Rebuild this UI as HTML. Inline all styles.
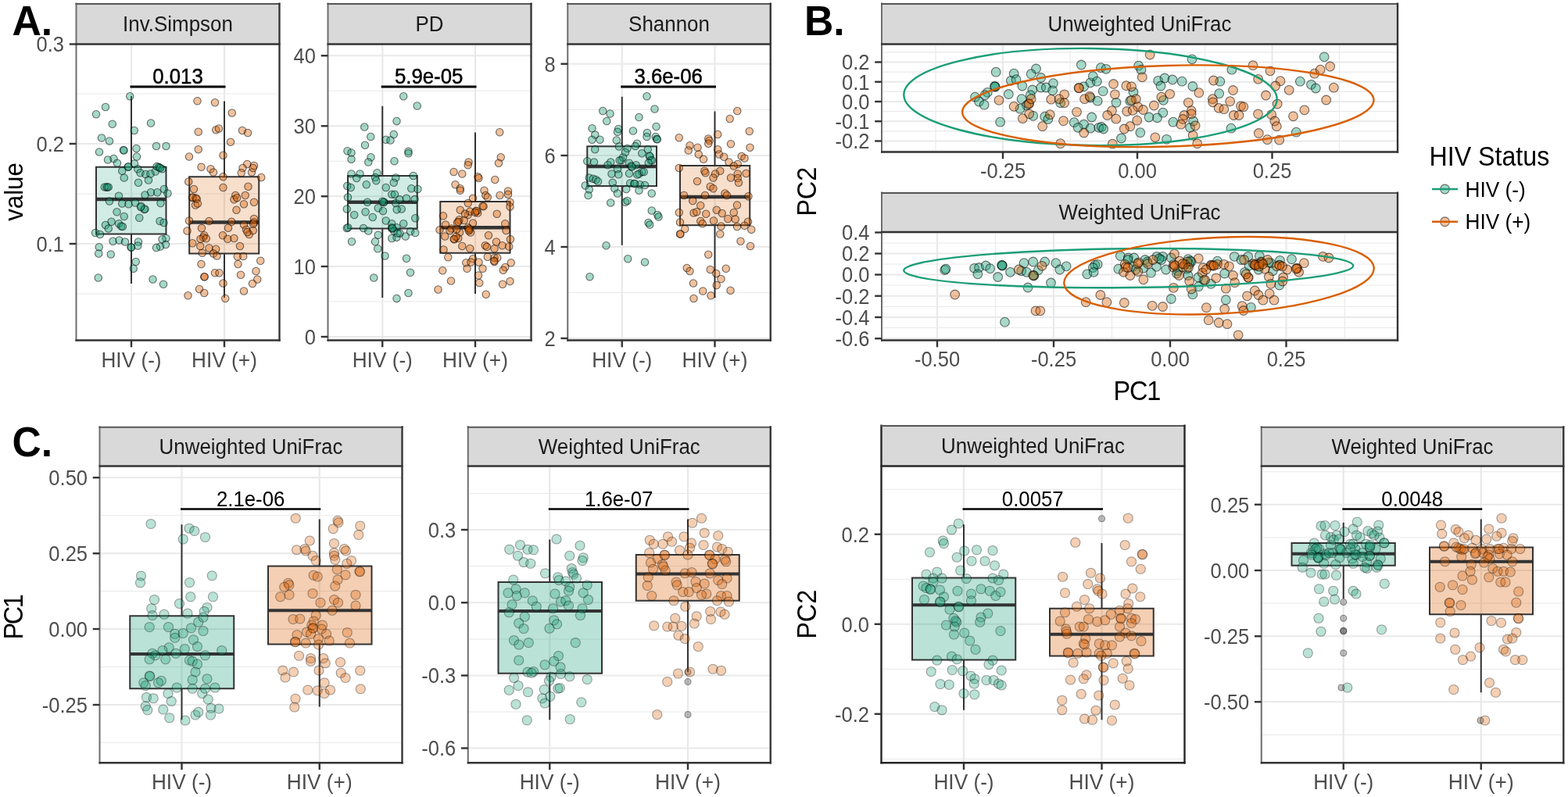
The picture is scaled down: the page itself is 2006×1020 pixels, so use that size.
<!DOCTYPE html>
<html lang="en">
<head>
<meta charset="utf-8">
<title>Alpha and beta diversity by HIV status</title>
<style>
html,body{margin:0;padding:0;background:#fff;}
body{width:2006px;height:1020px;overflow:hidden;}
svg{display:block;font-family:"Liberation Sans", sans-serif;}
</style>
</head>
<body>
<svg width="2006" height="1020" viewBox="0 0 2006 1020">
<rect x="0" y="0" width="2006" height="1020" fill="#fff"/>
<rect x="97.5" y="56.5" width="260" height="379" fill="#fff"/>
<line x1="97.5" y1="120" x2="357.5" y2="120" stroke="#E9E9E9" stroke-width="1.1"/>
<line x1="97.5" y1="248" x2="357.5" y2="248" stroke="#E9E9E9" stroke-width="1.1"/>
<line x1="97.5" y1="376" x2="357.5" y2="376" stroke="#E9E9E9" stroke-width="1.1"/>
<line x1="97.5" y1="184" x2="357.5" y2="184" stroke="#E9E9E9" stroke-width="2.2"/>
<line x1="97.5" y1="312" x2="357.5" y2="312" stroke="#E9E9E9" stroke-width="2.2"/>
<line x1="168" y1="56.5" x2="168" y2="435.5" stroke="#E9E9E9" stroke-width="2.2"/>
<line x1="287" y1="56.5" x2="287" y2="435.5" stroke="#E9E9E9" stroke-width="2.2"/>
<line x1="168" y1="123" x2="168" y2="213.75" stroke="#333" stroke-width="2.0"/>
<line x1="168" y1="299.5" x2="168" y2="363" stroke="#333" stroke-width="2.0"/>
<rect x="123" y="213.75" width="89.5" height="85.75" fill="#1B9E77" stroke="#333" stroke-width="2.0" fill-opacity="0.2"/>
<line x1="123" y1="255" x2="212.5" y2="255" stroke="#333" stroke-width="4.3"/>
<line x1="287" y1="129.5" x2="287" y2="226.25" stroke="#333" stroke-width="2.0"/>
<line x1="287" y1="324.5" x2="287" y2="381" stroke="#333" stroke-width="2.0"/>
<rect x="242.2" y="226.25" width="89.05" height="98.25" fill="#D95F02" stroke="#333" stroke-width="2.0" fill-opacity="0.2"/>
<line x1="242.2" y1="284.5" x2="331.25" y2="284.5" stroke="#333" stroke-width="4.3"/>
<g fill="#1B9E77" fill-opacity="0.39" stroke="#000" stroke-opacity="0.55" stroke-width="1.1">
<circle cx="166.25" cy="123.25" r="4.7"/><circle cx="135" cy="137" r="4.7"/><circle cx="123" cy="146.25" r="4.7"/><circle cx="143.75" cy="158.75" r="4.7"/><circle cx="193" cy="157.5" r="4.7"/><circle cx="171.75" cy="167" r="4.7"/><circle cx="130" cy="176.5" r="4.7"/><circle cx="140" cy="180.5" r="4.7"/><circle cx="200" cy="187" r="4.7"/><circle cx="212.5" cy="187" r="4.7"/><circle cx="174.5" cy="190" r="4.7"/><circle cx="158" cy="192" r="4.7"/><circle cx="158.5" cy="192.5" r="4.7"/><circle cx="127" cy="194.5" r="4.7"/><circle cx="175" cy="200.5" r="4.7"/><circle cx="138" cy="204.5" r="4.7"/><circle cx="145.5" cy="203" r="4.7"/><circle cx="150" cy="208.75" r="4.7"/><circle cx="172" cy="209.5" r="4.7"/><circle cx="163.75" cy="213.75" r="4.7"/><circle cx="164.25" cy="213.25" r="4.7"/><circle cx="203" cy="213.75" r="4.7"/><circle cx="203.5" cy="214.25" r="4.7"/><circle cx="207.5" cy="216.25" r="4.7"/><circle cx="198.75" cy="219.5" r="4.7"/><circle cx="176.25" cy="216.25" r="4.7"/><circle cx="156.25" cy="218.75" r="4.7"/><circle cx="179.5" cy="221.25" r="4.7"/><circle cx="186.25" cy="223" r="4.7"/><circle cx="192.5" cy="222.5" r="4.7"/><circle cx="158.75" cy="227.5" r="4.7"/><circle cx="190" cy="230.5" r="4.7"/><circle cx="177" cy="233.75" r="4.7"/><circle cx="136.25" cy="239.5" r="4.7"/><circle cx="137.25" cy="239.5" r="4.7"/><circle cx="210" cy="242" r="4.7"/><circle cx="193" cy="246.25" r="4.7"/><circle cx="201.25" cy="246.25" r="4.7"/><circle cx="214.5" cy="247.5" r="4.7"/><circle cx="185.5" cy="249.5" r="4.7"/><circle cx="152" cy="250.75" r="4.7"/><circle cx="140" cy="257.5" r="4.7"/><circle cx="156.25" cy="260.5" r="4.7"/><circle cx="164.5" cy="261.25" r="4.7"/><circle cx="173" cy="259.5" r="4.7"/><circle cx="205.5" cy="260" r="4.7"/><circle cx="180.5" cy="263.75" r="4.7"/><circle cx="184.5" cy="268" r="4.7"/><circle cx="185.5" cy="267.5" r="4.7"/><circle cx="149.5" cy="271.25" r="4.7"/><circle cx="158.75" cy="277" r="4.7"/><circle cx="178.25" cy="278.75" r="4.7"/><circle cx="142.5" cy="283.75" r="4.7"/><circle cx="204.5" cy="283" r="4.7"/><circle cx="209.5" cy="285" r="4.7"/><circle cx="135" cy="288" r="4.7"/><circle cx="152" cy="286.25" r="4.7"/><circle cx="155" cy="289.5" r="4.7"/><circle cx="138.75" cy="292.5" r="4.7"/><circle cx="122" cy="298" r="4.7"/><circle cx="128" cy="300" r="4.7"/><circle cx="212.5" cy="305" r="4.7"/><circle cx="207.5" cy="306.25" r="4.7"/><circle cx="144.5" cy="308.75" r="4.7"/><circle cx="152.5" cy="307.5" r="4.7"/><circle cx="160" cy="309.5" r="4.7"/><circle cx="177" cy="309.5" r="4.7"/><circle cx="176.25" cy="314.5" r="4.7"/><circle cx="167.5" cy="316.25" r="4.7"/><circle cx="168" cy="316.75" r="4.7"/><circle cx="212" cy="313" r="4.7"/><circle cx="205" cy="315.5" r="4.7"/><circle cx="200" cy="317" r="4.7"/><circle cx="126.75" cy="316.25" r="4.7"/><circle cx="126.25" cy="324.5" r="4.7"/><circle cx="141.75" cy="325.5" r="4.7"/><circle cx="173.75" cy="335" r="4.7"/><circle cx="170.75" cy="343.75" r="4.7"/><circle cx="125.75" cy="355.5" r="4.7"/><circle cx="195.5" cy="357.5" r="4.7"/><circle cx="209" cy="363.75" r="4.7"/><circle cx="133.75" cy="239.38" r="4.7"/><circle cx="138.75" cy="239.38" r="4.7"/><circle cx="156.88" cy="290" r="4.7"/><circle cx="200.62" cy="213.12" r="4.7"/><circle cx="205" cy="215" r="4.7"/><circle cx="180" cy="265" r="4.7"/>
</g>
<g fill="#D95F02" fill-opacity="0.39" stroke="#000" stroke-opacity="0.55" stroke-width="1.1">
<circle cx="252.5" cy="129.25" r="4.7"/><circle cx="275" cy="131.25" r="4.7"/><circle cx="296.75" cy="144.5" r="4.7"/><circle cx="253.75" cy="168.75" r="4.7"/><circle cx="276.25" cy="166.25" r="4.7"/><circle cx="280" cy="164.5" r="4.7"/><circle cx="310" cy="167" r="4.7"/><circle cx="317" cy="170" r="4.7"/><circle cx="295" cy="181.75" r="4.7"/><circle cx="253.75" cy="191.25" r="4.7"/><circle cx="285.5" cy="198.75" r="4.7"/><circle cx="242" cy="200.5" r="4.7"/><circle cx="257.5" cy="213.75" r="4.7"/><circle cx="269.5" cy="216.25" r="4.7"/><circle cx="273" cy="220.5" r="4.7"/><circle cx="316.25" cy="210" r="4.7"/><circle cx="325" cy="212" r="4.7"/><circle cx="310.5" cy="215" r="4.7"/><circle cx="308.75" cy="221.25" r="4.7"/><circle cx="322" cy="220.5" r="4.7"/><circle cx="323.75" cy="215" r="4.7"/><circle cx="334.25" cy="227" r="4.7"/><circle cx="285.5" cy="226.25" r="4.7"/><circle cx="285.5" cy="240" r="4.7"/><circle cx="317.5" cy="238.75" r="4.7"/><circle cx="301.25" cy="250" r="4.7"/><circle cx="313.75" cy="250" r="4.7"/><circle cx="241.25" cy="232.5" r="4.7"/><circle cx="248" cy="242" r="4.7"/><circle cx="246.25" cy="252.5" r="4.7"/><circle cx="325" cy="258.75" r="4.7"/><circle cx="312" cy="261.25" r="4.7"/><circle cx="302.5" cy="268.75" r="4.7"/><circle cx="267.5" cy="283" r="4.7"/><circle cx="296.25" cy="283.75" r="4.7"/><circle cx="325" cy="280" r="4.7"/><circle cx="325" cy="284.5" r="4.7"/><circle cx="312" cy="287.5" r="4.7"/><circle cx="292" cy="291.75" r="4.7"/><circle cx="258" cy="292" r="4.7"/><circle cx="315" cy="293.75" r="4.7"/><circle cx="318.75" cy="300" r="4.7"/><circle cx="323.75" cy="295" r="4.7"/><circle cx="261.25" cy="301.25" r="4.7"/><circle cx="260" cy="303.75" r="4.7"/><circle cx="285" cy="301.25" r="4.7"/><circle cx="291.25" cy="305.75" r="4.7"/><circle cx="299.5" cy="305" r="4.7"/><circle cx="307" cy="315" r="4.7"/><circle cx="256.25" cy="315" r="4.7"/><circle cx="267.5" cy="317.5" r="4.7"/><circle cx="276.25" cy="318.75" r="4.7"/><circle cx="258.75" cy="323.75" r="4.7"/><circle cx="273" cy="324.5" r="4.7"/><circle cx="277.5" cy="327.5" r="4.7"/><circle cx="303.75" cy="328.25" r="4.7"/><circle cx="311.25" cy="328" r="4.7"/><circle cx="333.25" cy="333.75" r="4.7"/><circle cx="257.5" cy="338" r="4.7"/><circle cx="304.5" cy="338" r="4.7"/><circle cx="327.5" cy="347" r="4.7"/><circle cx="275" cy="349.25" r="4.7"/><circle cx="280.5" cy="349.25" r="4.7"/><circle cx="308" cy="351.75" r="4.7"/><circle cx="261.25" cy="354.25" r="4.7"/><circle cx="261.75" cy="354.25" r="4.7"/><circle cx="329.25" cy="357.5" r="4.7"/><circle cx="285.5" cy="362.5" r="4.7"/><circle cx="323" cy="363" r="4.7"/><circle cx="255" cy="370" r="4.7"/><circle cx="261.25" cy="375" r="4.7"/><circle cx="312" cy="372.5" r="4.7"/><circle cx="288.25" cy="382" r="4.7"/><circle cx="250" cy="262.5" r="4.7"/><circle cx="242" cy="282.5" r="4.7"/><circle cx="239.5" cy="295.5" r="4.7"/><circle cx="246.25" cy="311.25" r="4.7"/><circle cx="240.5" cy="378.25" r="4.7"/><circle cx="246.47" cy="252.94" r="4.7"/><circle cx="250.59" cy="253.53" r="4.7"/><circle cx="251.76" cy="254.71" r="4.7"/><circle cx="252.94" cy="260.59" r="4.7"/><circle cx="299.41" cy="255.29" r="4.7"/><circle cx="303.18" cy="253.18" r="4.7"/><circle cx="316.47" cy="297.06" r="4.7"/><circle cx="324.12" cy="286.47" r="4.7"/><circle cx="256.47" cy="305.88" r="4.7"/><circle cx="263.76" cy="305.29" r="4.7"/>
</g>
<line x1="166.5" y1="110.9" x2="288.5" y2="110.9" stroke="#000" stroke-width="3"/>
<text transform="translate(227.5 107.2) scale(0.915 1)" font-size="28.2" fill="#000" text-anchor="middle" stroke="#000" stroke-width="0.5">0.013</text>
<rect x="97.5" y="4.5" width="260" height="52" fill="#D9D9D9"/>
<line x1="97.5" y1="3.5" x2="97.5" y2="436.68" stroke="#6e6e6e" stroke-width="2"/>
<line x1="96.5" y1="5" x2="358.5" y2="5" stroke="#555" stroke-width="2"/>
<line x1="357.5" y1="3.5" x2="357.5" y2="436.68" stroke="#333" stroke-width="2.35"/>
<line x1="96.5" y1="56.5" x2="358.5" y2="56.5" stroke="#333" stroke-width="2.35"/>
<line x1="96.5" y1="435.5" x2="358.68" y2="435.5" stroke="#333" stroke-width="2.35"/>
<text transform="translate(227.5 39.9) scale(0.92 1)" font-size="28.2" fill="#1A1A1A" text-anchor="middle">Inv.Simpson</text>
<line x1="88.7" y1="56.5" x2="97.5" y2="56.5" stroke="#333" stroke-width="2.4"/>
<text transform="translate(82 66.3) scale(0.905 1)" font-size="28.2" fill="#4D4D4D" text-anchor="end">0.3</text>
<line x1="88.7" y1="184" x2="97.5" y2="184" stroke="#333" stroke-width="2.4"/>
<text transform="translate(82 193.8) scale(0.905 1)" font-size="28.2" fill="#4D4D4D" text-anchor="end">0.2</text>
<line x1="88.7" y1="312" x2="97.5" y2="312" stroke="#333" stroke-width="2.4"/>
<text transform="translate(82 321.8) scale(0.905 1)" font-size="28.2" fill="#4D4D4D" text-anchor="end">0.1</text>
<line x1="168" y1="435.5" x2="168" y2="444.3" stroke="#333" stroke-width="2.4"/>
<text transform="translate(168 469.5) scale(0.93 1)" font-size="28.2" fill="#4D4D4D" text-anchor="middle">HIV (-)</text>
<line x1="287" y1="435.5" x2="287" y2="444.3" stroke="#333" stroke-width="2.4"/>
<text transform="translate(287 469.5) scale(0.93 1)" font-size="28.2" fill="#4D4D4D" text-anchor="middle">HIV (+)</text>
<rect x="419.5" y="56.5" width="260" height="379" fill="#fff"/>
<line x1="419.5" y1="116.25" x2="679.5" y2="116.25" stroke="#E9E9E9" stroke-width="1.1"/>
<line x1="419.5" y1="206.25" x2="679.5" y2="206.25" stroke="#E9E9E9" stroke-width="1.1"/>
<line x1="419.5" y1="296" x2="679.5" y2="296" stroke="#E9E9E9" stroke-width="1.1"/>
<line x1="419.5" y1="386" x2="679.5" y2="386" stroke="#E9E9E9" stroke-width="1.1"/>
<line x1="419.5" y1="71.25" x2="679.5" y2="71.25" stroke="#E9E9E9" stroke-width="2.2"/>
<line x1="419.5" y1="161.25" x2="679.5" y2="161.25" stroke="#E9E9E9" stroke-width="2.2"/>
<line x1="419.5" y1="251.25" x2="679.5" y2="251.25" stroke="#E9E9E9" stroke-width="2.2"/>
<line x1="419.5" y1="341" x2="679.5" y2="341" stroke="#E9E9E9" stroke-width="2.2"/>
<line x1="419.5" y1="431" x2="679.5" y2="431" stroke="#E9E9E9" stroke-width="2.2"/>
<line x1="489.25" y1="56.5" x2="489.25" y2="435.5" stroke="#E9E9E9" stroke-width="2.2"/>
<line x1="608" y1="56.5" x2="608" y2="435.5" stroke="#E9E9E9" stroke-width="2.2"/>
<line x1="489.25" y1="135.75" x2="489.25" y2="225" stroke="#333" stroke-width="2.0"/>
<line x1="489.25" y1="292.5" x2="489.25" y2="381" stroke="#333" stroke-width="2.0"/>
<rect x="445" y="225" width="88.75" height="67.5" fill="#1B9E77" stroke="#333" stroke-width="2.0" fill-opacity="0.2"/>
<line x1="445" y1="258.75" x2="533.75" y2="258.75" stroke="#333" stroke-width="4.3"/>
<line x1="608" y1="169.5" x2="608" y2="258" stroke="#333" stroke-width="2.0"/>
<line x1="608" y1="323.75" x2="608" y2="376" stroke="#333" stroke-width="2.0"/>
<rect x="563.25" y="258" width="89.25" height="65.75" fill="#D95F02" stroke="#333" stroke-width="2.0" fill-opacity="0.2"/>
<line x1="563.25" y1="291.25" x2="652.5" y2="291.25" stroke="#333" stroke-width="4.3"/>
<g fill="#1B9E77" fill-opacity="0.39" stroke="#000" stroke-opacity="0.55" stroke-width="1.1">
<circle cx="466.25" cy="162.5" r="4.7"/><circle cx="507.5" cy="155" r="4.7"/><circle cx="474.25" cy="175" r="4.7"/><circle cx="503.75" cy="172" r="4.7"/><circle cx="493.75" cy="178.75" r="4.7"/><circle cx="499.5" cy="179.5" r="4.7"/><circle cx="467" cy="185.75" r="4.7"/><circle cx="444.5" cy="193.25" r="4.7"/><circle cx="449.5" cy="195.5" r="4.7"/><circle cx="449.5" cy="203.75" r="4.7"/><circle cx="474.5" cy="201.25" r="4.7"/><circle cx="471.25" cy="207.5" r="4.7"/><circle cx="504.5" cy="206.25" r="4.7"/><circle cx="449.5" cy="222.5" r="4.7"/><circle cx="460.5" cy="222.5" r="4.7"/><circle cx="482.5" cy="221.25" r="4.7"/><circle cx="456.25" cy="228" r="4.7"/><circle cx="480" cy="227" r="4.7"/><circle cx="481.25" cy="231.25" r="4.7"/><circle cx="506.25" cy="227.5" r="4.7"/><circle cx="503.75" cy="233.75" r="4.7"/><circle cx="468.75" cy="236.25" r="4.7"/><circle cx="444.25" cy="238" r="4.7"/><circle cx="448.75" cy="240" r="4.7"/><circle cx="493.75" cy="240" r="4.7"/><circle cx="501.25" cy="248.75" r="4.7"/><circle cx="505" cy="248.75" r="4.7"/><circle cx="445" cy="252.5" r="4.7"/><circle cx="491.25" cy="258.75" r="4.7"/><circle cx="516.25" cy="123.25" r="4.7"/><circle cx="533.75" cy="135.5" r="4.7"/><circle cx="522.5" cy="193.75" r="4.7"/><circle cx="522.5" cy="196.25" r="4.7"/><circle cx="528.75" cy="225" r="4.7"/><circle cx="526.25" cy="241.25" r="4.7"/><circle cx="534.5" cy="242" r="4.7"/><circle cx="520" cy="253.75" r="4.7"/><circle cx="470" cy="258.75" r="4.7"/><circle cx="506.25" cy="260" r="4.7"/><circle cx="443.75" cy="267.5" r="4.7"/><circle cx="483.75" cy="266.25" r="4.7"/><circle cx="490" cy="270" r="4.7"/><circle cx="467.5" cy="271.25" r="4.7"/><circle cx="453.25" cy="275" r="4.7"/><circle cx="476.75" cy="278" r="4.7"/><circle cx="513.75" cy="267.5" r="4.7"/><circle cx="493.75" cy="282.5" r="4.7"/><circle cx="501.25" cy="286.25" r="4.7"/><circle cx="501.25" cy="292.5" r="4.7"/><circle cx="443.75" cy="292" r="4.7"/><circle cx="465" cy="292" r="4.7"/><circle cx="471.25" cy="295.5" r="4.7"/><circle cx="507.5" cy="291.25" r="4.7"/><circle cx="483.75" cy="300.75" r="4.7"/><circle cx="501.25" cy="305" r="4.7"/><circle cx="450" cy="309.25" r="4.7"/><circle cx="480" cy="309.25" r="4.7"/><circle cx="507.5" cy="303.75" r="4.7"/><circle cx="483.25" cy="318.25" r="4.7"/><circle cx="492.5" cy="327.5" r="4.7"/><circle cx="478.25" cy="355.5" r="4.7"/><circle cx="507.5" cy="382" r="4.7"/><circle cx="531.25" cy="279.25" r="4.7"/><circle cx="516.25" cy="286.25" r="4.7"/><circle cx="518.75" cy="302.5" r="4.7"/><circle cx="525" cy="296.25" r="4.7"/><circle cx="531.25" cy="298" r="4.7"/><circle cx="520" cy="330.75" r="4.7"/><circle cx="525" cy="348.75" r="4.7"/><circle cx="522.5" cy="375" r="4.7"/><circle cx="501.18" cy="291.18" r="4.7"/><circle cx="504.12" cy="295.59" r="4.7"/><circle cx="511.47" cy="298.53" r="4.7"/><circle cx="490.88" cy="258.82" r="4.7"/><circle cx="445.29" cy="291.18" r="4.7"/><circle cx="502.24" cy="292.16" r="4.7"/><circle cx="508.71" cy="298.62" r="4.7"/><circle cx="489.31" cy="257.67" r="4.7"/><circle cx="511.18" cy="255.29" r="4.7"/><circle cx="530.59" cy="255.06" r="4.7"/><circle cx="507.65" cy="268.24" r="4.7"/>
</g>
<g fill="#D95F02" fill-opacity="0.39" stroke="#000" stroke-opacity="0.55" stroke-width="1.1">
<circle cx="639.25" cy="169.25" r="4.7"/><circle cx="640.75" cy="201.25" r="4.7"/><circle cx="638" cy="208.75" r="4.7"/><circle cx="599.5" cy="207.5" r="4.7"/><circle cx="598.75" cy="211.25" r="4.7"/><circle cx="580.5" cy="220" r="4.7"/><circle cx="591.25" cy="222.5" r="4.7"/><circle cx="611.25" cy="226.25" r="4.7"/><circle cx="612.5" cy="228" r="4.7"/><circle cx="633.25" cy="230" r="4.7"/><circle cx="582.5" cy="236.25" r="4.7"/><circle cx="588.75" cy="241.25" r="4.7"/><circle cx="588.75" cy="243.75" r="4.7"/><circle cx="619.5" cy="243.75" r="4.7"/><circle cx="621.25" cy="250" r="4.7"/><circle cx="650" cy="244.5" r="4.7"/><circle cx="650" cy="248.75" r="4.7"/><circle cx="639.5" cy="250" r="4.7"/><circle cx="605" cy="253.75" r="4.7"/><circle cx="623.75" cy="252.5" r="4.7"/><circle cx="598.75" cy="260" r="4.7"/><circle cx="652.5" cy="258.75" r="4.7"/><circle cx="652.5" cy="264.5" r="4.7"/><circle cx="617.5" cy="263.75" r="4.7"/><circle cx="588.75" cy="268.75" r="4.7"/><circle cx="608.75" cy="270" r="4.7"/><circle cx="611.25" cy="272.5" r="4.7"/><circle cx="598.75" cy="275" r="4.7"/><circle cx="635.75" cy="273.75" r="4.7"/><circle cx="567" cy="276.25" r="4.7"/><circle cx="587.5" cy="281.25" r="4.7"/><circle cx="593.75" cy="282" r="4.7"/><circle cx="585" cy="285" r="4.7"/><circle cx="570" cy="287.5" r="4.7"/><circle cx="605" cy="285.5" r="4.7"/><circle cx="646.25" cy="286.25" r="4.7"/><circle cx="562.5" cy="294.25" r="4.7"/><circle cx="577.5" cy="292.5" r="4.7"/><circle cx="598.75" cy="291.25" r="4.7"/><circle cx="601.25" cy="293.75" r="4.7"/><circle cx="588" cy="297.5" r="4.7"/><circle cx="602" cy="297.5" r="4.7"/><circle cx="647.5" cy="295" r="4.7"/><circle cx="569.25" cy="302.5" r="4.7"/><circle cx="581.25" cy="306.25" r="4.7"/><circle cx="586.25" cy="305" r="4.7"/><circle cx="625" cy="301.25" r="4.7"/><circle cx="653" cy="306.25" r="4.7"/><circle cx="635" cy="309.5" r="4.7"/><circle cx="591.25" cy="315" r="4.7"/><circle cx="620.75" cy="314.25" r="4.7"/><circle cx="642.5" cy="314.25" r="4.7"/><circle cx="651.25" cy="315.5" r="4.7"/><circle cx="601.25" cy="318" r="4.7"/><circle cx="632.5" cy="318.25" r="4.7"/><circle cx="567.5" cy="319.5" r="4.7"/><circle cx="573.25" cy="329.25" r="4.7"/><circle cx="623.75" cy="328.75" r="4.7"/><circle cx="605" cy="331.25" r="4.7"/><circle cx="632.5" cy="330" r="4.7"/><circle cx="636.25" cy="330" r="4.7"/><circle cx="632.5" cy="335" r="4.7"/><circle cx="596.25" cy="336.25" r="4.7"/><circle cx="602.5" cy="335.5" r="4.7"/><circle cx="612.5" cy="335.5" r="4.7"/><circle cx="653.75" cy="336.25" r="4.7"/><circle cx="597.5" cy="343.75" r="4.7"/><circle cx="617.5" cy="343.75" r="4.7"/><circle cx="646.25" cy="342" r="4.7"/><circle cx="643.75" cy="345.75" r="4.7"/><circle cx="566.25" cy="346.25" r="4.7"/><circle cx="612" cy="352.5" r="4.7"/><circle cx="577" cy="359.5" r="4.7"/><circle cx="613.25" cy="362" r="4.7"/><circle cx="652.5" cy="360" r="4.7"/><circle cx="643" cy="363.75" r="4.7"/><circle cx="560.5" cy="370.5" r="4.7"/><circle cx="621.75" cy="376.75" r="4.7"/><circle cx="601.18" cy="270.59" r="4.7"/><circle cx="610" cy="270" r="4.7"/><circle cx="599.71" cy="292.65" r="4.7"/><circle cx="586.47" cy="283.82" r="4.7"/><circle cx="583.53" cy="302.94" r="4.7"/><circle cx="580.59" cy="305.88" r="4.7"/><circle cx="632.06" cy="333.82" r="4.7"/><circle cx="594.91" cy="273.62" r="4.7"/><circle cx="607.84" cy="271.9" r="4.7"/><circle cx="584.14" cy="293.45" r="4.7"/><circle cx="575.52" cy="295.17" r="4.7"/><circle cx="599.66" cy="295.17" r="4.7"/><circle cx="618.62" cy="264.14" r="4.7"/><circle cx="622.93" cy="315.86" r="4.7"/>
</g>
<line x1="487.75" y1="110.9" x2="609.5" y2="110.9" stroke="#000" stroke-width="3"/>
<text transform="translate(548.62 107.2) scale(0.915 1)" font-size="28.2" fill="#000" text-anchor="middle" stroke="#000" stroke-width="0.5">5.9e-05</text>
<rect x="419.5" y="4.5" width="260" height="52" fill="#D9D9D9"/>
<line x1="419.5" y1="3.5" x2="419.5" y2="436.68" stroke="#6e6e6e" stroke-width="2"/>
<line x1="418.5" y1="5" x2="680.5" y2="5" stroke="#555" stroke-width="2"/>
<line x1="679.5" y1="3.5" x2="679.5" y2="436.68" stroke="#333" stroke-width="2.35"/>
<line x1="418.5" y1="56.5" x2="680.5" y2="56.5" stroke="#333" stroke-width="2.35"/>
<line x1="418.5" y1="435.5" x2="680.67" y2="435.5" stroke="#333" stroke-width="2.35"/>
<text transform="translate(549.5 39.9) scale(0.92 1)" font-size="28.2" fill="#1A1A1A" text-anchor="middle">PD</text>
<line x1="410.7" y1="71.25" x2="419.5" y2="71.25" stroke="#333" stroke-width="2.4"/>
<text transform="translate(404 81.05) scale(0.905 1)" font-size="28.2" fill="#4D4D4D" text-anchor="end">40</text>
<line x1="410.7" y1="161.25" x2="419.5" y2="161.25" stroke="#333" stroke-width="2.4"/>
<text transform="translate(404 171.05) scale(0.905 1)" font-size="28.2" fill="#4D4D4D" text-anchor="end">30</text>
<line x1="410.7" y1="251.25" x2="419.5" y2="251.25" stroke="#333" stroke-width="2.4"/>
<text transform="translate(404 261.05) scale(0.905 1)" font-size="28.2" fill="#4D4D4D" text-anchor="end">20</text>
<line x1="410.7" y1="341" x2="419.5" y2="341" stroke="#333" stroke-width="2.4"/>
<text transform="translate(404 350.8) scale(0.905 1)" font-size="28.2" fill="#4D4D4D" text-anchor="end">10</text>
<line x1="410.7" y1="431" x2="419.5" y2="431" stroke="#333" stroke-width="2.4"/>
<text transform="translate(404 440.8) scale(0.905 1)" font-size="28.2" fill="#4D4D4D" text-anchor="end">0</text>
<line x1="489.25" y1="435.5" x2="489.25" y2="444.3" stroke="#333" stroke-width="2.4"/>
<text transform="translate(489.25 469.5) scale(0.93 1)" font-size="28.2" fill="#4D4D4D" text-anchor="middle">HIV (-)</text>
<line x1="608" y1="435.5" x2="608" y2="444.3" stroke="#333" stroke-width="2.4"/>
<text transform="translate(608 469.5) scale(0.93 1)" font-size="28.2" fill="#4D4D4D" text-anchor="middle">HIV (+)</text>
<rect x="726.25" y="56.5" width="259.5" height="379" fill="#fff"/>
<line x1="726.25" y1="140.5" x2="985.75" y2="140.5" stroke="#E9E9E9" stroke-width="1.1"/>
<line x1="726.25" y1="257.5" x2="985.75" y2="257.5" stroke="#E9E9E9" stroke-width="1.1"/>
<line x1="726.25" y1="374.5" x2="985.75" y2="374.5" stroke="#E9E9E9" stroke-width="1.1"/>
<line x1="726.25" y1="81.75" x2="985.75" y2="81.75" stroke="#E9E9E9" stroke-width="2.2"/>
<line x1="726.25" y1="199" x2="985.75" y2="199" stroke="#E9E9E9" stroke-width="2.2"/>
<line x1="726.25" y1="316" x2="985.75" y2="316" stroke="#E9E9E9" stroke-width="2.2"/>
<line x1="726.25" y1="433" x2="985.75" y2="433" stroke="#E9E9E9" stroke-width="2.2"/>
<line x1="795.75" y1="56.5" x2="795.75" y2="435.5" stroke="#E9E9E9" stroke-width="2.2"/>
<line x1="914.5" y1="56.5" x2="914.5" y2="435.5" stroke="#E9E9E9" stroke-width="2.2"/>
<line x1="795.75" y1="123.75" x2="795.75" y2="187.3" stroke="#333" stroke-width="2.0"/>
<line x1="795.75" y1="238.1" x2="795.75" y2="313.75" stroke="#333" stroke-width="2.0"/>
<rect x="751.25" y="187.3" width="88.75" height="50.8" fill="#1B9E77" stroke="#333" stroke-width="2.0" fill-opacity="0.2"/>
<line x1="751.25" y1="213" x2="840" y2="213" stroke="#333" stroke-width="4.3"/>
<line x1="914.5" y1="142.5" x2="914.5" y2="212" stroke="#333" stroke-width="2.0"/>
<line x1="914.5" y1="288.25" x2="914.5" y2="381.25" stroke="#333" stroke-width="2.0"/>
<rect x="870" y="212" width="89.25" height="76.25" fill="#D95F02" stroke="#333" stroke-width="2.0" fill-opacity="0.2"/>
<line x1="870" y1="252" x2="959.25" y2="252" stroke="#333" stroke-width="4.3"/>
<g fill="#1B9E77" fill-opacity="0.39" stroke="#000" stroke-opacity="0.55" stroke-width="1.1">
<circle cx="757.5" cy="164.25" r="4.7"/><circle cx="761.25" cy="172.5" r="4.7"/><circle cx="757.5" cy="178.75" r="4.7"/><circle cx="761.25" cy="191.25" r="4.7"/><circle cx="751.25" cy="206.25" r="4.7"/><circle cx="760" cy="207.5" r="4.7"/><circle cx="753.75" cy="227.5" r="4.7"/><circle cx="758.75" cy="228.75" r="4.7"/><circle cx="762.5" cy="230" r="4.7"/><circle cx="748.75" cy="237.5" r="4.7"/><circle cx="753.75" cy="242.5" r="4.7"/><circle cx="752.5" cy="250" r="4.7"/><circle cx="827.5" cy="123.25" r="4.7"/><circle cx="837.5" cy="139.5" r="4.7"/><circle cx="771.25" cy="142" r="4.7"/><circle cx="780.5" cy="145.5" r="4.7"/><circle cx="817.5" cy="150" r="4.7"/><circle cx="776.25" cy="155" r="4.7"/><circle cx="839.5" cy="162" r="4.7"/><circle cx="791.25" cy="165" r="4.7"/><circle cx="790" cy="168.75" r="4.7"/><circle cx="810" cy="167.5" r="4.7"/><circle cx="828" cy="170" r="4.7"/><circle cx="827.5" cy="175" r="4.7"/><circle cx="838.75" cy="175" r="4.7"/><circle cx="840" cy="178" r="4.7"/><circle cx="767.5" cy="178.75" r="4.7"/><circle cx="788.75" cy="179.5" r="4.7"/><circle cx="815" cy="183.75" r="4.7"/><circle cx="792" cy="187.5" r="4.7"/><circle cx="802.5" cy="190" r="4.7"/><circle cx="828.75" cy="191.25" r="4.7"/><circle cx="800" cy="195" r="4.7"/><circle cx="821.25" cy="196.25" r="4.7"/><circle cx="831.25" cy="200" r="4.7"/><circle cx="832.5" cy="205" r="4.7"/><circle cx="795" cy="205" r="4.7"/><circle cx="781.25" cy="207.5" r="4.7"/><circle cx="805" cy="208.75" r="4.7"/><circle cx="807.5" cy="212.5" r="4.7"/><circle cx="813.75" cy="211.25" r="4.7"/><circle cx="777.5" cy="211.25" r="4.7"/><circle cx="790" cy="216.25" r="4.7"/><circle cx="821.25" cy="220" r="4.7"/><circle cx="817.5" cy="222.5" r="4.7"/><circle cx="823.75" cy="220" r="4.7"/><circle cx="782.5" cy="222.5" r="4.7"/><circle cx="791.25" cy="223.25" r="4.7"/><circle cx="805" cy="222" r="4.7"/><circle cx="783.75" cy="233.75" r="4.7"/><circle cx="806.25" cy="234.5" r="4.7"/><circle cx="811.25" cy="235" r="4.7"/><circle cx="818.75" cy="236.25" r="4.7"/><circle cx="825" cy="237" r="4.7"/><circle cx="786.25" cy="241.25" r="4.7"/><circle cx="801.25" cy="242" r="4.7"/><circle cx="817.5" cy="243.75" r="4.7"/><circle cx="790" cy="247.5" r="4.7"/><circle cx="833.75" cy="247.5" r="4.7"/><circle cx="800" cy="258.75" r="4.7"/><circle cx="781.25" cy="259.5" r="4.7"/><circle cx="802.5" cy="257" r="4.7"/><circle cx="833.75" cy="269.5" r="4.7"/><circle cx="841.25" cy="275" r="4.7"/><circle cx="842.5" cy="277.5" r="4.7"/><circle cx="829.5" cy="285" r="4.7"/><circle cx="831.25" cy="287.5" r="4.7"/><circle cx="775.5" cy="314.25" r="4.7"/><circle cx="803.25" cy="331.25" r="4.7"/><circle cx="825" cy="335.5" r="4.7"/><circle cx="754.5" cy="354.25" r="4.7"/><circle cx="830.97" cy="199.64" r="4.7"/><circle cx="834.1" cy="205.28" r="4.7"/><circle cx="829.71" cy="208.42" r="4.7"/><circle cx="797.09" cy="201.52" r="4.7"/><circle cx="792.7" cy="205.28" r="4.7"/><circle cx="765.09" cy="232.26" r="4.7"/><circle cx="808.38" cy="213.44" r="4.7"/><circle cx="815.28" cy="223.48" r="4.7"/><circle cx="812.15" cy="235.14" r="4.7"/><circle cx="841" cy="178.31" r="4.7"/><circle cx="812.77" cy="187.09" r="4.7"/>
</g>
<g fill="#D95F02" fill-opacity="0.39" stroke="#000" stroke-opacity="0.55" stroke-width="1.1">
<circle cx="943.25" cy="142" r="4.7"/><circle cx="933.75" cy="152" r="4.7"/><circle cx="958.75" cy="168" r="4.7"/><circle cx="918.25" cy="172" r="4.7"/><circle cx="868.75" cy="176.25" r="4.7"/><circle cx="906.25" cy="177.5" r="4.7"/><circle cx="907.5" cy="180" r="4.7"/><circle cx="906.25" cy="183.75" r="4.7"/><circle cx="935" cy="184.25" r="4.7"/><circle cx="882.5" cy="186.25" r="4.7"/><circle cx="892.5" cy="188.75" r="4.7"/><circle cx="959.5" cy="188.75" r="4.7"/><circle cx="918.25" cy="191.25" r="4.7"/><circle cx="880.75" cy="192.5" r="4.7"/><circle cx="893.75" cy="197.5" r="4.7"/><circle cx="920" cy="197.5" r="4.7"/><circle cx="926.25" cy="200.75" r="4.7"/><circle cx="948.75" cy="200" r="4.7"/><circle cx="952.5" cy="202.5" r="4.7"/><circle cx="900" cy="203.75" r="4.7"/><circle cx="932.5" cy="207.5" r="4.7"/><circle cx="943.75" cy="210" r="4.7"/><circle cx="938.75" cy="212.5" r="4.7"/><circle cx="868.75" cy="215" r="4.7"/><circle cx="901.25" cy="218.75" r="4.7"/><circle cx="902.5" cy="221.25" r="4.7"/><circle cx="921.25" cy="218.75" r="4.7"/><circle cx="915" cy="222.5" r="4.7"/><circle cx="912.5" cy="227.5" r="4.7"/><circle cx="954.5" cy="222" r="4.7"/><circle cx="943.75" cy="222.5" r="4.7"/><circle cx="935" cy="227.5" r="4.7"/><circle cx="943.75" cy="228" r="4.7"/><circle cx="945" cy="233.75" r="4.7"/><circle cx="892" cy="232" r="4.7"/><circle cx="908.75" cy="238.75" r="4.7"/><circle cx="912.5" cy="241.25" r="4.7"/><circle cx="927.5" cy="247.5" r="4.7"/><circle cx="875" cy="250" r="4.7"/><circle cx="902" cy="250" r="4.7"/><circle cx="930" cy="250" r="4.7"/><circle cx="957.5" cy="251.25" r="4.7"/><circle cx="886.25" cy="257" r="4.7"/><circle cx="896.25" cy="263" r="4.7"/><circle cx="943" cy="262.5" r="4.7"/><circle cx="868.75" cy="272" r="4.7"/><circle cx="887.5" cy="272.5" r="4.7"/><circle cx="891.25" cy="271.25" r="4.7"/><circle cx="903.25" cy="273.75" r="4.7"/><circle cx="916.75" cy="268.75" r="4.7"/><circle cx="923.75" cy="273" r="4.7"/><circle cx="938.75" cy="272" r="4.7"/><circle cx="931.25" cy="280" r="4.7"/><circle cx="940.75" cy="280.5" r="4.7"/><circle cx="913" cy="282.5" r="4.7"/><circle cx="896.25" cy="283" r="4.7"/><circle cx="898.75" cy="286.25" r="4.7"/><circle cx="870" cy="284.5" r="4.7"/><circle cx="957" cy="283.75" r="4.7"/><circle cx="922.5" cy="289.5" r="4.7"/><circle cx="943" cy="290" r="4.7"/><circle cx="952.5" cy="288.75" r="4.7"/><circle cx="961.25" cy="293.75" r="4.7"/><circle cx="876.25" cy="293" r="4.7"/><circle cx="870" cy="299.5" r="4.7"/><circle cx="870.5" cy="299.5" r="4.7"/><circle cx="921.25" cy="299.5" r="4.7"/><circle cx="947.5" cy="308.75" r="4.7"/><circle cx="960" cy="315" r="4.7"/><circle cx="906.25" cy="325.75" r="4.7"/><circle cx="878.75" cy="343" r="4.7"/><circle cx="882.5" cy="347" r="4.7"/><circle cx="908.75" cy="345" r="4.7"/><circle cx="928.75" cy="343.75" r="4.7"/><circle cx="916.25" cy="350" r="4.7"/><circle cx="922.5" cy="357" r="4.7"/><circle cx="887" cy="362.5" r="4.7"/><circle cx="916.75" cy="365" r="4.7"/><circle cx="899.25" cy="372.5" r="4.7"/><circle cx="934.5" cy="371.75" r="4.7"/><circle cx="909.5" cy="378.25" r="4.7"/><circle cx="887.5" cy="382" r="4.7"/>
</g>
<line x1="794.25" y1="110.9" x2="916" y2="110.9" stroke="#000" stroke-width="3"/>
<text transform="translate(855.12 107.2) scale(0.915 1)" font-size="28.2" fill="#000" text-anchor="middle" stroke="#000" stroke-width="0.5">3.6e-06</text>
<rect x="726.25" y="4.5" width="259.5" height="52" fill="#D9D9D9"/>
<line x1="726.25" y1="3.5" x2="726.25" y2="436.68" stroke="#6e6e6e" stroke-width="2"/>
<line x1="725.25" y1="5" x2="986.75" y2="5" stroke="#555" stroke-width="2"/>
<line x1="985.75" y1="3.5" x2="985.75" y2="436.68" stroke="#333" stroke-width="2.35"/>
<line x1="725.25" y1="56.5" x2="986.75" y2="56.5" stroke="#333" stroke-width="2.35"/>
<line x1="725.25" y1="435.5" x2="986.92" y2="435.5" stroke="#333" stroke-width="2.35"/>
<text transform="translate(856 39.9) scale(0.92 1)" font-size="28.2" fill="#1A1A1A" text-anchor="middle">Shannon</text>
<line x1="717.45" y1="81.75" x2="726.25" y2="81.75" stroke="#333" stroke-width="2.4"/>
<text transform="translate(710.75 91.55) scale(0.905 1)" font-size="28.2" fill="#4D4D4D" text-anchor="end">8</text>
<line x1="717.45" y1="199" x2="726.25" y2="199" stroke="#333" stroke-width="2.4"/>
<text transform="translate(710.75 208.8) scale(0.905 1)" font-size="28.2" fill="#4D4D4D" text-anchor="end">6</text>
<line x1="717.45" y1="316" x2="726.25" y2="316" stroke="#333" stroke-width="2.4"/>
<text transform="translate(710.75 325.8) scale(0.905 1)" font-size="28.2" fill="#4D4D4D" text-anchor="end">4</text>
<line x1="717.45" y1="433" x2="726.25" y2="433" stroke="#333" stroke-width="2.4"/>
<text transform="translate(710.75 442.8) scale(0.905 1)" font-size="28.2" fill="#4D4D4D" text-anchor="end">2</text>
<line x1="795.75" y1="435.5" x2="795.75" y2="444.3" stroke="#333" stroke-width="2.4"/>
<text transform="translate(795.75 469.5) scale(0.93 1)" font-size="28.2" fill="#4D4D4D" text-anchor="middle">HIV (-)</text>
<line x1="914.5" y1="435.5" x2="914.5" y2="444.3" stroke="#333" stroke-width="2.4"/>
<text transform="translate(914.5 469.5) scale(0.93 1)" font-size="28.2" fill="#4D4D4D" text-anchor="middle">HIV (+)</text>
<text transform="translate(15.5 44.5) scale(0.975 1)" font-size="53" fill="#000" font-weight="bold">A.</text>
<text transform="translate(29.3 245.5) rotate(-90) scale(0.93 1)" font-size="33.6" fill="#000" text-anchor="middle">value</text>
<text transform="translate(1029 44.5) scale(0.975 1)" font-size="53" fill="#000" font-weight="bold">B.</text>
<rect x="1128" y="56.5" width="660" height="138" fill="#fff"/>
<line x1="1128" y1="66.9" x2="1788" y2="66.9" stroke="#E9E9E9" stroke-width="1.1"/>
<line x1="1128" y1="92.1" x2="1788" y2="92.1" stroke="#E9E9E9" stroke-width="1.1"/>
<line x1="1128" y1="117.4" x2="1788" y2="117.4" stroke="#E9E9E9" stroke-width="1.1"/>
<line x1="1128" y1="142.6" x2="1788" y2="142.6" stroke="#E9E9E9" stroke-width="1.1"/>
<line x1="1128" y1="167.9" x2="1788" y2="167.9" stroke="#E9E9E9" stroke-width="1.1"/>
<line x1="1128" y1="193.1" x2="1788" y2="193.1" stroke="#E9E9E9" stroke-width="1.1"/>
<line x1="1197" y1="56.5" x2="1197" y2="194.5" stroke="#E9E9E9" stroke-width="1.1"/>
<line x1="1369" y1="56.5" x2="1369" y2="194.5" stroke="#E9E9E9" stroke-width="1.1"/>
<line x1="1541.5" y1="56.5" x2="1541.5" y2="194.5" stroke="#E9E9E9" stroke-width="1.1"/>
<line x1="1713.5" y1="56.5" x2="1713.5" y2="194.5" stroke="#E9E9E9" stroke-width="1.1"/>
<line x1="1128" y1="79.5" x2="1788" y2="79.5" stroke="#E9E9E9" stroke-width="2.2"/>
<line x1="1128" y1="104.75" x2="1788" y2="104.75" stroke="#E9E9E9" stroke-width="2.2"/>
<line x1="1128" y1="130" x2="1788" y2="130" stroke="#E9E9E9" stroke-width="2.2"/>
<line x1="1128" y1="155.25" x2="1788" y2="155.25" stroke="#E9E9E9" stroke-width="2.2"/>
<line x1="1128" y1="180.5" x2="1788" y2="180.5" stroke="#E9E9E9" stroke-width="2.2"/>
<line x1="1283" y1="56.5" x2="1283" y2="194.5" stroke="#E9E9E9" stroke-width="2.2"/>
<line x1="1455" y1="56.5" x2="1455" y2="194.5" stroke="#E9E9E9" stroke-width="2.2"/>
<line x1="1627.5" y1="56.5" x2="1627.5" y2="194.5" stroke="#E9E9E9" stroke-width="2.2"/>
<g fill="#1B9E77" fill-opacity="0.39" stroke="#000" stroke-opacity="0.55" stroke-width="1.1">
<circle cx="1274.17" cy="92.17" r="5.85"/><circle cx="1297.17" cy="94.17" r="5.85"/><circle cx="1293.33" cy="103.33" r="5.85"/><circle cx="1300" cy="101.67" r="5.85"/><circle cx="1325.5" cy="88" r="5.85"/><circle cx="1319.17" cy="94.67" r="5.85"/><circle cx="1331.67" cy="99.5" r="5.85"/><circle cx="1383.33" cy="83" r="5.85"/><circle cx="1272.83" cy="110.83" r="5.85"/><circle cx="1273.17" cy="111.17" r="5.85"/><circle cx="1272.5" cy="110.5" r="5.85"/><circle cx="1307.83" cy="110" r="5.85"/><circle cx="1347.5" cy="106.67" r="5.85"/><circle cx="1320.83" cy="115" r="5.85"/><circle cx="1331.67" cy="112" r="5.85"/><circle cx="1338.33" cy="112" r="5.85"/><circle cx="1346.67" cy="115.83" r="5.85"/><circle cx="1290.33" cy="120.5" r="5.85"/><circle cx="1263.33" cy="118.33" r="5.85"/><circle cx="1260" cy="121.67" r="5.85"/><circle cx="1247.5" cy="124.17" r="5.85"/><circle cx="1252.5" cy="130" r="5.85"/><circle cx="1259.17" cy="134.17" r="5.85"/><circle cx="1307" cy="126.67" r="5.85"/><circle cx="1318.33" cy="121.67" r="5.85"/><circle cx="1313.33" cy="135" r="5.85"/><circle cx="1305" cy="139.17" r="5.85"/><circle cx="1321.67" cy="148.33" r="5.85"/><circle cx="1336.67" cy="149.17" r="5.85"/><circle cx="1340.83" cy="152.5" r="5.85"/><circle cx="1279.67" cy="156.17" r="5.85"/><circle cx="1374.17" cy="156.67" r="5.85"/><circle cx="1386.67" cy="159.17" r="5.85"/><circle cx="1379.17" cy="163.33" r="5.85"/><circle cx="1395" cy="164.17" r="5.85"/><circle cx="1396.67" cy="150" r="5.85"/><circle cx="1386.67" cy="110.83" r="5.85"/><circle cx="1395" cy="105.83" r="5.85"/><circle cx="1398.33" cy="97.5" r="5.85"/><circle cx="1356.67" cy="131.67" r="5.85"/><circle cx="1395" cy="125" r="5.85"/><circle cx="1408.33" cy="86.67" r="5.85"/><circle cx="1415" cy="88.33" r="5.85"/><circle cx="1403.33" cy="104.17" r="5.85"/><circle cx="1456.67" cy="84.17" r="5.85"/><circle cx="1460" cy="89.17" r="5.85"/><circle cx="1525" cy="75.83" r="5.85"/><circle cx="1411.17" cy="116.67" r="5.85"/><circle cx="1404.17" cy="129.17" r="5.85"/><circle cx="1428" cy="131.33" r="5.85"/><circle cx="1450" cy="118" r="5.85"/><circle cx="1445.83" cy="129.17" r="5.85"/><circle cx="1481.67" cy="103.33" r="5.85"/><circle cx="1490" cy="100" r="5.85"/><circle cx="1485" cy="110" r="5.85"/><circle cx="1500" cy="102" r="5.85"/><circle cx="1512.17" cy="104.17" r="5.85"/><circle cx="1525.83" cy="110.5" r="5.85"/><circle cx="1560.83" cy="104.17" r="5.85"/><circle cx="1559.67" cy="119.67" r="5.85"/><circle cx="1488.33" cy="128.33" r="5.85"/><circle cx="1487.83" cy="144.17" r="5.85"/><circle cx="1470" cy="150" r="5.85"/><circle cx="1480.5" cy="150.83" r="5.85"/><circle cx="1500.83" cy="156.17" r="5.85"/><circle cx="1405.83" cy="163.33" r="5.85"/><circle cx="1409.17" cy="162.5" r="5.85"/><circle cx="1411.67" cy="165" r="5.85"/><circle cx="1458.83" cy="169.67" r="5.85"/><circle cx="1434.5" cy="177" r="5.85"/><circle cx="1492.5" cy="178.33" r="5.85"/><circle cx="1522.5" cy="163.33" r="5.85"/><circle cx="1526.67" cy="155" r="5.85"/><circle cx="1575" cy="164.17" r="5.85"/><circle cx="1575.83" cy="89.17" r="5.85"/><circle cx="1694.17" cy="72.83" r="5.85"/><circle cx="1663.33" cy="104.17" r="5.85"/><circle cx="1677.5" cy="108.33" r="5.85"/><circle cx="1683.33" cy="113" r="5.85"/><circle cx="1658.33" cy="169.17" r="5.85"/>
</g>
<g fill="#D95F02" fill-opacity="0.39" stroke="#000" stroke-opacity="0.55" stroke-width="1.1">
<circle cx="1278" cy="128.33" r="5.85"/><circle cx="1297.17" cy="136.33" r="5.85"/><circle cx="1316.67" cy="132.5" r="5.85"/><circle cx="1315.83" cy="133.33" r="5.85"/><circle cx="1319.17" cy="126.67" r="5.85"/><circle cx="1316.67" cy="145.83" r="5.85"/><circle cx="1308.33" cy="151.67" r="5.85"/><circle cx="1333.67" cy="161.67" r="5.85"/><circle cx="1343.33" cy="146.67" r="5.85"/><circle cx="1344.67" cy="127.17" r="5.85"/><circle cx="1355" cy="126.67" r="5.85"/><circle cx="1361.67" cy="120.83" r="5.85"/><circle cx="1361.67" cy="131.67" r="5.85"/><circle cx="1360.5" cy="154.67" r="5.85"/><circle cx="1377.5" cy="143.33" r="5.85"/><circle cx="1380" cy="112.5" r="5.85"/><circle cx="1380.5" cy="112.83" r="5.85"/><circle cx="1387.5" cy="126.67" r="5.85"/><circle cx="1394.17" cy="123.33" r="5.85"/><circle cx="1386.67" cy="170" r="5.85"/><circle cx="1356.67" cy="183.67" r="5.85"/><circle cx="1471.17" cy="70" r="5.85"/><circle cx="1461.33" cy="98.83" r="5.85"/><circle cx="1424.5" cy="107.5" r="5.85"/><circle cx="1440.83" cy="109.67" r="5.85"/><circle cx="1447.5" cy="110.83" r="5.85"/><circle cx="1426.33" cy="120.83" r="5.85"/><circle cx="1453.33" cy="126.67" r="5.85"/><circle cx="1447.5" cy="128.33" r="5.85"/><circle cx="1455.83" cy="136.67" r="5.85"/><circle cx="1462.5" cy="140.5" r="5.85"/><circle cx="1441.67" cy="142.5" r="5.85"/><circle cx="1449.17" cy="141.33" r="5.85"/><circle cx="1422.5" cy="141.67" r="5.85"/><circle cx="1416.67" cy="147.5" r="5.85"/><circle cx="1427.83" cy="152.17" r="5.85"/><circle cx="1454.67" cy="154.17" r="5.85"/><circle cx="1445.83" cy="161.67" r="5.85"/><circle cx="1438.33" cy="165" r="5.85"/><circle cx="1476.33" cy="135" r="5.85"/><circle cx="1485.83" cy="124.17" r="5.85"/><circle cx="1496.67" cy="120.33" r="5.85"/><circle cx="1520.33" cy="131.33" r="5.85"/><circle cx="1524.17" cy="141.67" r="5.85"/><circle cx="1524.17" cy="145.83" r="5.85"/><circle cx="1515" cy="147.5" r="5.85"/><circle cx="1513.33" cy="152.5" r="5.85"/><circle cx="1510.83" cy="159.17" r="5.85"/><circle cx="1529.17" cy="160.83" r="5.85"/><circle cx="1526.17" cy="173.33" r="5.85"/><circle cx="1531.67" cy="183.83" r="5.85"/><circle cx="1477.83" cy="175.83" r="5.85"/><circle cx="1423.33" cy="184.17" r="5.85"/><circle cx="1533.83" cy="118.67" r="5.85"/><circle cx="1552.5" cy="103" r="5.85"/><circle cx="1551.33" cy="126.67" r="5.85"/><circle cx="1551.67" cy="130.83" r="5.85"/><circle cx="1559.17" cy="138.33" r="5.85"/><circle cx="1565.83" cy="139.67" r="5.85"/><circle cx="1573.67" cy="129.67" r="5.85"/><circle cx="1603" cy="83.67" r="5.85"/><circle cx="1625" cy="90.83" r="5.85"/><circle cx="1609.67" cy="101.33" r="5.85"/><circle cx="1638" cy="103.67" r="5.85"/><circle cx="1631.67" cy="110" r="5.85"/><circle cx="1577.5" cy="115.5" r="5.85"/><circle cx="1649.17" cy="115.33" r="5.85"/><circle cx="1619.5" cy="122" r="5.85"/><circle cx="1634.17" cy="133" r="5.85"/><circle cx="1587.5" cy="135.83" r="5.85"/><circle cx="1590.83" cy="136.67" r="5.85"/><circle cx="1668.83" cy="140.83" r="5.85"/><circle cx="1609.5" cy="145.83" r="5.85"/><circle cx="1578.33" cy="147.5" r="5.85"/><circle cx="1585" cy="147.5" r="5.85"/><circle cx="1626.67" cy="146.67" r="5.85"/><circle cx="1654.5" cy="148.83" r="5.85"/><circle cx="1630.83" cy="155" r="5.85"/><circle cx="1633.33" cy="161.67" r="5.85"/><circle cx="1610.33" cy="170.5" r="5.85"/><circle cx="1621.33" cy="178.67" r="5.85"/><circle cx="1636.67" cy="179.17" r="5.85"/><circle cx="1681.67" cy="94.17" r="5.85"/><circle cx="1689.17" cy="89.17" r="5.85"/><circle cx="1701.67" cy="85" r="5.85"/><circle cx="1706.33" cy="112.17" r="5.85"/><circle cx="1696.67" cy="128" r="5.85"/>
</g>
<ellipse cx="1395" cy="124" rx="238.7" ry="62" fill="none" stroke="#1B9E77" stroke-width="2.4" transform="rotate(0.71 1395 124)"/>
<ellipse cx="1494.3" cy="135.75" rx="263.3" ry="51.75" fill="none" stroke="#D95F02" stroke-width="2.4" transform="rotate(-1.73 1494.3 135.75)"/>
<rect x="1128" y="4.5" width="660" height="52" fill="#D9D9D9"/>
<line x1="1128" y1="3.5" x2="1128" y2="195.68" stroke="#6e6e6e" stroke-width="2"/>
<line x1="1127" y1="5" x2="1789" y2="5" stroke="#555" stroke-width="2"/>
<line x1="1788" y1="3.5" x2="1788" y2="195.68" stroke="#333" stroke-width="2.35"/>
<line x1="1127" y1="56.5" x2="1789" y2="56.5" stroke="#333" stroke-width="2.35"/>
<line x1="1127" y1="194.5" x2="1789.17" y2="194.5" stroke="#333" stroke-width="2.35"/>
<text transform="translate(1458 39.9) scale(0.92 1)" font-size="28.2" fill="#1A1A1A" text-anchor="middle">Unweighted UniFrac</text>
<line x1="1119.2" y1="79.5" x2="1128" y2="79.5" stroke="#333" stroke-width="2.4"/>
<text transform="translate(1112.5 89.3) scale(0.905 1)" font-size="28.2" fill="#4D4D4D" text-anchor="end">0.2</text>
<line x1="1119.2" y1="104.75" x2="1128" y2="104.75" stroke="#333" stroke-width="2.4"/>
<text transform="translate(1112.5 114.55) scale(0.905 1)" font-size="28.2" fill="#4D4D4D" text-anchor="end">0.1</text>
<line x1="1119.2" y1="130" x2="1128" y2="130" stroke="#333" stroke-width="2.4"/>
<text transform="translate(1112.5 139.8) scale(0.905 1)" font-size="28.2" fill="#4D4D4D" text-anchor="end">0.0</text>
<line x1="1119.2" y1="155.25" x2="1128" y2="155.25" stroke="#333" stroke-width="2.4"/>
<text transform="translate(1112.5 165.05) scale(0.905 1)" font-size="28.2" fill="#4D4D4D" text-anchor="end">-0.1</text>
<line x1="1119.2" y1="180.5" x2="1128" y2="180.5" stroke="#333" stroke-width="2.4"/>
<text transform="translate(1112.5 190.3) scale(0.905 1)" font-size="28.2" fill="#4D4D4D" text-anchor="end">-0.2</text>
<line x1="1283" y1="194.5" x2="1283" y2="203.3" stroke="#333" stroke-width="2.4"/>
<text transform="translate(1283 227.5) scale(0.905 1)" font-size="28.2" fill="#4D4D4D" text-anchor="middle">-0.25</text>
<line x1="1455" y1="194.5" x2="1455" y2="203.3" stroke="#333" stroke-width="2.4"/>
<text transform="translate(1455 227.5) scale(0.905 1)" font-size="28.2" fill="#4D4D4D" text-anchor="middle">0.00</text>
<line x1="1627.5" y1="194.5" x2="1627.5" y2="203.3" stroke="#333" stroke-width="2.4"/>
<text transform="translate(1627.5 227.5) scale(0.905 1)" font-size="28.2" fill="#4D4D4D" text-anchor="middle">0.25</text>
<rect x="1128" y="297" width="660" height="138.5" fill="#fff"/>
<line x1="1128" y1="311" x2="1788" y2="311" stroke="#E9E9E9" stroke-width="1.1"/>
<line x1="1128" y1="338" x2="1788" y2="338" stroke="#E9E9E9" stroke-width="1.1"/>
<line x1="1128" y1="365" x2="1788" y2="365" stroke="#E9E9E9" stroke-width="1.1"/>
<line x1="1128" y1="392.5" x2="1788" y2="392.5" stroke="#E9E9E9" stroke-width="1.1"/>
<line x1="1128" y1="419.5" x2="1788" y2="419.5" stroke="#E9E9E9" stroke-width="1.1"/>
<line x1="1273.5" y1="297" x2="1273.5" y2="435.5" stroke="#E9E9E9" stroke-width="1.1"/>
<line x1="1422.5" y1="297" x2="1422.5" y2="435.5" stroke="#E9E9E9" stroke-width="1.1"/>
<line x1="1571" y1="297" x2="1571" y2="435.5" stroke="#E9E9E9" stroke-width="1.1"/>
<line x1="1720.5" y1="297" x2="1720.5" y2="435.5" stroke="#E9E9E9" stroke-width="1.1"/>
<line x1="1128" y1="297.5" x2="1788" y2="297.5" stroke="#E9E9E9" stroke-width="2.2"/>
<line x1="1128" y1="324.5" x2="1788" y2="324.5" stroke="#E9E9E9" stroke-width="2.2"/>
<line x1="1128" y1="351.5" x2="1788" y2="351.5" stroke="#E9E9E9" stroke-width="2.2"/>
<line x1="1128" y1="378.75" x2="1788" y2="378.75" stroke="#E9E9E9" stroke-width="2.2"/>
<line x1="1128" y1="406" x2="1788" y2="406" stroke="#E9E9E9" stroke-width="2.2"/>
<line x1="1128" y1="433.25" x2="1788" y2="433.25" stroke="#E9E9E9" stroke-width="2.2"/>
<line x1="1199" y1="297" x2="1199" y2="435.5" stroke="#E9E9E9" stroke-width="2.2"/>
<line x1="1348" y1="297" x2="1348" y2="435.5" stroke="#E9E9E9" stroke-width="2.2"/>
<line x1="1497" y1="297" x2="1497" y2="435.5" stroke="#E9E9E9" stroke-width="2.2"/>
<line x1="1645.5" y1="297" x2="1645.5" y2="435.5" stroke="#E9E9E9" stroke-width="2.2"/>
<g fill="#1B9E77" fill-opacity="0.39" stroke="#000" stroke-opacity="0.55" stroke-width="1.1">
<circle cx="1208.67" cy="345.5" r="5.85"/><circle cx="1210" cy="344.17" r="5.85"/><circle cx="1246.67" cy="343.33" r="5.85"/><circle cx="1252.5" cy="342.5" r="5.85"/><circle cx="1250.83" cy="350.83" r="5.85"/><circle cx="1261.17" cy="340" r="5.85"/><circle cx="1266.67" cy="343.67" r="5.85"/><circle cx="1282" cy="339.67" r="5.85"/><circle cx="1282.33" cy="340" r="5.85"/><circle cx="1281.67" cy="339.33" r="5.85"/><circle cx="1276.67" cy="354.5" r="5.85"/><circle cx="1292.5" cy="348.33" r="5.85"/><circle cx="1310" cy="336.67" r="5.85"/><circle cx="1321.67" cy="335" r="5.85"/><circle cx="1336.67" cy="335" r="5.85"/><circle cx="1350.83" cy="336.67" r="5.85"/><circle cx="1355.83" cy="345" r="5.85"/><circle cx="1306.67" cy="346.67" r="5.85"/><circle cx="1313.33" cy="348.33" r="5.85"/><circle cx="1322.5" cy="352.5" r="5.85"/><circle cx="1322.83" cy="352.83" r="5.85"/><circle cx="1328.33" cy="345.83" r="5.85"/><circle cx="1344.5" cy="362" r="5.85"/><circle cx="1315" cy="368" r="5.85"/><circle cx="1285.5" cy="412.17" r="5.85"/><circle cx="1364.17" cy="340.83" r="5.85"/><circle cx="1400.83" cy="339.17" r="5.85"/><circle cx="1404.17" cy="338.33" r="5.85"/><circle cx="1398.33" cy="342.5" r="5.85"/><circle cx="1390.83" cy="350.83" r="5.85"/><circle cx="1399.17" cy="348.33" r="5.85"/><circle cx="1433.33" cy="327.5" r="5.85"/><circle cx="1430.83" cy="344.17" r="5.85"/><circle cx="1443.33" cy="330" r="5.85"/><circle cx="1450.83" cy="330" r="5.85"/><circle cx="1465" cy="332.5" r="5.85"/><circle cx="1450" cy="340.83" r="5.85"/><circle cx="1462.5" cy="343.33" r="5.85"/><circle cx="1479.5" cy="341.33" r="5.85"/><circle cx="1472.5" cy="349.17" r="5.85"/><circle cx="1480" cy="328.33" r="5.85"/><circle cx="1487.5" cy="328.33" r="5.85"/><circle cx="1485.83" cy="332.5" r="5.85"/><circle cx="1491.67" cy="345" r="5.85"/><circle cx="1498.33" cy="330" r="5.85"/><circle cx="1520" cy="331.67" r="5.85"/><circle cx="1521.67" cy="338.33" r="5.85"/><circle cx="1524.17" cy="335" r="5.85"/><circle cx="1518.33" cy="344.17" r="5.85"/><circle cx="1506.67" cy="346.67" r="5.85"/><circle cx="1520" cy="352.5" r="5.85"/><circle cx="1498.33" cy="382.5" r="5.85"/><circle cx="1525.83" cy="376.67" r="5.85"/><circle cx="1533.33" cy="366.67" r="5.85"/><circle cx="1579.17" cy="328.33" r="5.85"/><circle cx="1596.67" cy="328.33" r="5.85"/><circle cx="1611.33" cy="327.5" r="5.85"/><circle cx="1557.5" cy="334.17" r="5.85"/><circle cx="1637.5" cy="333.33" r="5.85"/><circle cx="1652.5" cy="331.67" r="5.85"/><circle cx="1566.67" cy="350" r="5.85"/><circle cx="1592.5" cy="348.33" r="5.85"/><circle cx="1610" cy="345" r="5.85"/><circle cx="1628.33" cy="346.67" r="5.85"/><circle cx="1625.83" cy="336.67" r="5.85"/><circle cx="1549.17" cy="363.33" r="5.85"/><circle cx="1636.67" cy="365" r="5.85"/><circle cx="1568.33" cy="383.67" r="5.85"/><circle cx="1600.33" cy="393.33" r="5.85"/><circle cx="1540" cy="358.33" r="5.85"/><circle cx="1443" cy="332.5" r="5.85"/><circle cx="1468" cy="335" r="5.85"/><circle cx="1483" cy="331" r="5.85"/><circle cx="1523" cy="334" r="5.85"/><circle cx="1588" cy="332.5" r="5.85"/><circle cx="1623" cy="336" r="5.85"/><circle cx="1598" cy="340" r="5.85"/><circle cx="1453" cy="345" r="5.85"/><circle cx="1505.5" cy="350" r="5.85"/><circle cx="1533" cy="355" r="5.85"/>
</g>
<g fill="#D95F02" fill-opacity="0.39" stroke="#000" stroke-opacity="0.55" stroke-width="1.1">
<circle cx="1221.67" cy="377" r="5.85"/><circle cx="1303.33" cy="345" r="5.85"/><circle cx="1333" cy="340.33" r="5.85"/><circle cx="1321.67" cy="352.5" r="5.85"/><circle cx="1325" cy="397.83" r="5.85"/><circle cx="1330.83" cy="397.83" r="5.85"/><circle cx="1439.17" cy="338.33" r="5.85"/><circle cx="1440" cy="341.67" r="5.85"/><circle cx="1437.5" cy="348.33" r="5.85"/><circle cx="1445.83" cy="352.5" r="5.85"/><circle cx="1456.67" cy="335.83" r="5.85"/><circle cx="1455.83" cy="347.5" r="5.85"/><circle cx="1468.33" cy="337.5" r="5.85"/><circle cx="1475" cy="332.5" r="5.85"/><circle cx="1462.83" cy="357.83" r="5.85"/><circle cx="1502.5" cy="325" r="5.85"/><circle cx="1500.83" cy="341.67" r="5.85"/><circle cx="1501.67" cy="338.33" r="5.85"/><circle cx="1509.17" cy="334.17" r="5.85"/><circle cx="1519.17" cy="335" r="5.85"/><circle cx="1515.83" cy="338.33" r="5.85"/><circle cx="1513.33" cy="341.67" r="5.85"/><circle cx="1508.33" cy="352.5" r="5.85"/><circle cx="1521.67" cy="360" r="5.85"/><circle cx="1501.33" cy="368.33" r="5.85"/><circle cx="1524.17" cy="370" r="5.85"/><circle cx="1533.33" cy="330.83" r="5.85"/><circle cx="1407.83" cy="377.5" r="5.85"/><circle cx="1415.83" cy="386.67" r="5.85"/><circle cx="1389.17" cy="386.67" r="5.85"/><circle cx="1438.33" cy="387.5" r="5.85"/><circle cx="1474.17" cy="391.33" r="5.85"/><circle cx="1487.5" cy="392.5" r="5.85"/><circle cx="1539.17" cy="342.5" r="5.85"/><circle cx="1538.33" cy="349.17" r="5.85"/><circle cx="1549.17" cy="339.17" r="5.85"/><circle cx="1551.67" cy="340" r="5.85"/><circle cx="1550" cy="339.67" r="5.85"/><circle cx="1557.5" cy="338.33" r="5.85"/><circle cx="1565.83" cy="338.33" r="5.85"/><circle cx="1572.5" cy="340.83" r="5.85"/><circle cx="1541.67" cy="358.33" r="5.85"/><circle cx="1555.83" cy="355.83" r="5.85"/><circle cx="1577.5" cy="352.5" r="5.85"/><circle cx="1579.67" cy="361.67" r="5.85"/><circle cx="1568.33" cy="369.17" r="5.85"/><circle cx="1591.67" cy="332.5" r="5.85"/><circle cx="1603.33" cy="337.5" r="5.85"/><circle cx="1606.67" cy="340" r="5.85"/><circle cx="1605" cy="338.67" r="5.85"/><circle cx="1613.33" cy="335" r="5.85"/><circle cx="1614.17" cy="335.83" r="5.85"/><circle cx="1610.83" cy="338.33" r="5.85"/><circle cx="1621.67" cy="332.5" r="5.85"/><circle cx="1618.33" cy="344.17" r="5.85"/><circle cx="1596.67" cy="355" r="5.85"/><circle cx="1597.17" cy="355.33" r="5.85"/><circle cx="1594.17" cy="350.83" r="5.85"/><circle cx="1623.33" cy="354.17" r="5.85"/><circle cx="1625.83" cy="363.33" r="5.85"/><circle cx="1636.67" cy="339.17" r="5.85"/><circle cx="1637.17" cy="339.5" r="5.85"/><circle cx="1633.33" cy="340.83" r="5.85"/><circle cx="1646.67" cy="345" r="5.85"/><circle cx="1641.67" cy="355" r="5.85"/><circle cx="1640.83" cy="360" r="5.85"/><circle cx="1659.17" cy="343.33" r="5.85"/><circle cx="1659.67" cy="343.67" r="5.85"/><circle cx="1661.67" cy="348.33" r="5.85"/><circle cx="1668.33" cy="336.67" r="5.85"/><circle cx="1692.5" cy="328.33" r="5.85"/><circle cx="1700" cy="330" r="5.85"/><circle cx="1605.33" cy="372" r="5.85"/><circle cx="1610" cy="377.5" r="5.85"/><circle cx="1595.5" cy="378.83" r="5.85"/><circle cx="1615.83" cy="384.17" r="5.85"/><circle cx="1624.17" cy="375.83" r="5.85"/><circle cx="1630" cy="384.17" r="5.85"/><circle cx="1543.33" cy="393.67" r="5.85"/><circle cx="1566.67" cy="395.5" r="5.85"/><circle cx="1589.17" cy="391.67" r="5.85"/><circle cx="1590.83" cy="397.5" r="5.85"/><circle cx="1546.17" cy="409.67" r="5.85"/><circle cx="1559.17" cy="413" r="5.85"/><circle cx="1570" cy="414.67" r="5.85"/><circle cx="1584.17" cy="428.83" r="5.85"/><circle cx="1605.5" cy="339" r="5.85"/><circle cx="1610.5" cy="341" r="5.85"/><circle cx="1615.5" cy="338" r="5.85"/><circle cx="1503" cy="340" r="5.85"/><circle cx="1513" cy="337.5" r="5.85"/><circle cx="1520.5" cy="342.5" r="5.85"/><circle cx="1443" cy="342.5" r="5.85"/><circle cx="1455.5" cy="337.5" r="5.85"/><circle cx="1640.5" cy="341" r="5.85"/><circle cx="1658" cy="344" r="5.85"/><circle cx="1553" cy="340" r="5.85"/><circle cx="1543" cy="345" r="5.85"/>
</g>
<ellipse cx="1443.75" cy="343.1" rx="287.5" ry="24.9" fill="none" stroke="#1B9E77" stroke-width="2.4" transform="rotate(-0.6 1443.75 343.1)"/>
<ellipse cx="1559.5" cy="352.75" rx="198.5" ry="48.75" fill="none" stroke="#D95F02" stroke-width="2.4" transform="rotate(-2.85 1559.5 352.75)"/>
<rect x="1128" y="246.5" width="660" height="50.5" fill="#D9D9D9"/>
<line x1="1128" y1="245.5" x2="1128" y2="436.68" stroke="#6e6e6e" stroke-width="2"/>
<line x1="1127" y1="247" x2="1789" y2="247" stroke="#555" stroke-width="2"/>
<line x1="1788" y1="245.5" x2="1788" y2="436.68" stroke="#333" stroke-width="2.35"/>
<line x1="1127" y1="297" x2="1789" y2="297" stroke="#333" stroke-width="2.35"/>
<line x1="1127" y1="435.5" x2="1789.17" y2="435.5" stroke="#333" stroke-width="2.35"/>
<text transform="translate(1458 281.15) scale(0.92 1)" font-size="28.2" fill="#1A1A1A" text-anchor="middle">Weighted UniFrac</text>
<line x1="1119.2" y1="297.5" x2="1128" y2="297.5" stroke="#333" stroke-width="2.4"/>
<text transform="translate(1112.5 307.3) scale(0.905 1)" font-size="28.2" fill="#4D4D4D" text-anchor="end">0.4</text>
<line x1="1119.2" y1="324.5" x2="1128" y2="324.5" stroke="#333" stroke-width="2.4"/>
<text transform="translate(1112.5 334.3) scale(0.905 1)" font-size="28.2" fill="#4D4D4D" text-anchor="end">0.2</text>
<line x1="1119.2" y1="351.5" x2="1128" y2="351.5" stroke="#333" stroke-width="2.4"/>
<text transform="translate(1112.5 361.3) scale(0.905 1)" font-size="28.2" fill="#4D4D4D" text-anchor="end">0.0</text>
<line x1="1119.2" y1="378.75" x2="1128" y2="378.75" stroke="#333" stroke-width="2.4"/>
<text transform="translate(1112.5 388.55) scale(0.905 1)" font-size="28.2" fill="#4D4D4D" text-anchor="end">-0.2</text>
<line x1="1119.2" y1="406" x2="1128" y2="406" stroke="#333" stroke-width="2.4"/>
<text transform="translate(1112.5 415.8) scale(0.905 1)" font-size="28.2" fill="#4D4D4D" text-anchor="end">-0.4</text>
<line x1="1119.2" y1="433.25" x2="1128" y2="433.25" stroke="#333" stroke-width="2.4"/>
<text transform="translate(1112.5 443.05) scale(0.905 1)" font-size="28.2" fill="#4D4D4D" text-anchor="end">-0.6</text>
<line x1="1199" y1="435.5" x2="1199" y2="444.3" stroke="#333" stroke-width="2.4"/>
<text transform="translate(1199 469) scale(0.905 1)" font-size="28.2" fill="#4D4D4D" text-anchor="middle">-0.50</text>
<line x1="1348" y1="435.5" x2="1348" y2="444.3" stroke="#333" stroke-width="2.4"/>
<text transform="translate(1348 469) scale(0.905 1)" font-size="28.2" fill="#4D4D4D" text-anchor="middle">-0.25</text>
<line x1="1497" y1="435.5" x2="1497" y2="444.3" stroke="#333" stroke-width="2.4"/>
<text transform="translate(1497 469) scale(0.905 1)" font-size="28.2" fill="#4D4D4D" text-anchor="middle">0.00</text>
<line x1="1645.5" y1="435.5" x2="1645.5" y2="444.3" stroke="#333" stroke-width="2.4"/>
<text transform="translate(1645.5 469) scale(0.905 1)" font-size="28.2" fill="#4D4D4D" text-anchor="middle">0.25</text>
<text transform="translate(1044.3 245.2) rotate(-90) scale(0.93 1)" font-size="35" fill="#000" text-anchor="middle" letter-spacing="0">PC2</text>
<text transform="translate(1454.3 511.6) scale(0.93 1)" font-size="35" fill="#000" text-anchor="middle" letter-spacing="-1.4">PC1</text>
<text transform="translate(1828.5 211.8) scale(0.93 1)" font-size="34.6" fill="#000">HIV Status</text>
<g fill="#1B9E77" fill-opacity="0.39" stroke="#000" stroke-opacity="0.55" stroke-width="1.1">
<circle cx="1848.5" cy="242" r="5.85"/>
</g>
<line x1="1832" y1="242" x2="1865" y2="242" stroke="#1B9E77" stroke-width="2.3"/>
<text transform="translate(1874.5 251.6) scale(0.93 1)" font-size="28.2" fill="#000">HIV (-)</text>
<g fill="#D95F02" fill-opacity="0.39" stroke="#000" stroke-opacity="0.55" stroke-width="1.1">
<circle cx="1848.5" cy="283.75" r="5.85"/>
</g>
<line x1="1832" y1="283.75" x2="1865" y2="283.75" stroke="#D95F02" stroke-width="2.3"/>
<text transform="translate(1874.5 293.35) scale(0.93 1)" font-size="28.2" fill="#000">HIV (+)</text>
<text transform="translate(15.5 584) scale(0.975 1)" font-size="53" fill="#000" font-weight="bold">C.</text>
<rect x="127.5" y="596.5" width="387" height="379.75" fill="#fff"/>
<line x1="127.5" y1="659.75" x2="514.5" y2="659.75" stroke="#E9E9E9" stroke-width="1.1"/>
<line x1="127.5" y1="756.5" x2="514.5" y2="756.5" stroke="#E9E9E9" stroke-width="1.1"/>
<line x1="127.5" y1="853.5" x2="514.5" y2="853.5" stroke="#E9E9E9" stroke-width="1.1"/>
<line x1="127.5" y1="950.5" x2="514.5" y2="950.5" stroke="#E9E9E9" stroke-width="1.1"/>
<line x1="127.5" y1="611.25" x2="514.5" y2="611.25" stroke="#E9E9E9" stroke-width="2.2"/>
<line x1="127.5" y1="708.25" x2="514.5" y2="708.25" stroke="#E9E9E9" stroke-width="2.2"/>
<line x1="127.5" y1="805" x2="514.5" y2="805" stroke="#E9E9E9" stroke-width="2.2"/>
<line x1="127.5" y1="902" x2="514.5" y2="902" stroke="#E9E9E9" stroke-width="2.2"/>
<line x1="232.5" y1="596.5" x2="232.5" y2="976.25" stroke="#E9E9E9" stroke-width="2.2"/>
<line x1="408.75" y1="596.5" x2="408.75" y2="976.25" stroke="#E9E9E9" stroke-width="2.2"/>
<line x1="232.5" y1="671.25" x2="232.5" y2="788.25" stroke="#333" stroke-width="2.0"/>
<line x1="232.5" y1="881.25" x2="232.5" y2="921.25" stroke="#333" stroke-width="2.0"/>
<rect x="166.25" y="788.25" width="133" height="93" fill="#1B9E77" stroke="#333" stroke-width="2.0" fill-opacity="0.3"/>
<line x1="166.25" y1="837" x2="299.25" y2="837" stroke="#333" stroke-width="3.8"/>
<line x1="408.75" y1="664.5" x2="408.75" y2="724.5" stroke="#333" stroke-width="2.0"/>
<line x1="408.75" y1="824.5" x2="408.75" y2="904.5" stroke="#333" stroke-width="2.0"/>
<rect x="343" y="724.5" width="132.5" height="100" fill="#D95F02" stroke="#333" stroke-width="2.0" fill-opacity="0.3"/>
<line x1="343" y1="781.25" x2="475.5" y2="781.25" stroke="#333" stroke-width="3.8"/>
<g fill="#1B9E77" fill-opacity="0.3" stroke="#000" stroke-opacity="0.35" stroke-width="1.1">
<circle cx="193" cy="670.5" r="6.05"/><circle cx="242" cy="676.25" r="6.05"/><circle cx="248.75" cy="679.5" r="6.05"/><circle cx="234.25" cy="690" r="6.05"/><circle cx="180.5" cy="737" r="6.05"/><circle cx="179.5" cy="745.75" r="6.05"/><circle cx="242.5" cy="745.5" r="6.05"/><circle cx="197.5" cy="767.5" r="6.05"/><circle cx="243.75" cy="763.75" r="6.05"/><circle cx="262.5" cy="687.5" r="6.05"/><circle cx="271.25" cy="736.75" r="6.05"/><circle cx="272.5" cy="763.75" r="6.05"/><circle cx="193.75" cy="778.75" r="6.05"/><circle cx="229.5" cy="772.5" r="6.05"/><circle cx="195" cy="787.5" r="6.05"/><circle cx="210" cy="786.25" r="6.05"/><circle cx="240" cy="785" r="6.05"/><circle cx="191.25" cy="802.5" r="6.05"/><circle cx="215.5" cy="802.5" r="6.05"/><circle cx="244.5" cy="803.75" r="6.05"/><circle cx="253.75" cy="796.25" r="6.05"/><circle cx="223.75" cy="811.25" r="6.05"/><circle cx="223.75" cy="816.25" r="6.05"/><circle cx="234.25" cy="810.5" r="6.05"/><circle cx="247.5" cy="818.75" r="6.05"/><circle cx="252.5" cy="827.5" r="6.05"/><circle cx="216.25" cy="828.75" r="6.05"/><circle cx="208" cy="832.5" r="6.05"/><circle cx="236.25" cy="830.5" r="6.05"/><circle cx="195" cy="836.25" r="6.05"/><circle cx="198.75" cy="838.75" r="6.05"/><circle cx="225" cy="836.25" r="6.05"/><circle cx="191.25" cy="843.75" r="6.05"/><circle cx="211.75" cy="843.75" r="6.05"/><circle cx="242.5" cy="845" r="6.05"/><circle cx="246.25" cy="846.25" r="6.05"/><circle cx="252.5" cy="850" r="6.05"/><circle cx="250" cy="860" r="6.05"/><circle cx="191.25" cy="865" r="6.05"/><circle cx="191.75" cy="865.5" r="6.05"/><circle cx="206.25" cy="871.25" r="6.05"/><circle cx="202.5" cy="873.75" r="6.05"/><circle cx="246.25" cy="870" r="6.05"/><circle cx="183.75" cy="873.75" r="6.05"/><circle cx="186.25" cy="877.5" r="6.05"/><circle cx="226.25" cy="880" r="6.05"/><circle cx="246.25" cy="881.25" r="6.05"/><circle cx="215" cy="887.5" r="6.05"/><circle cx="258.75" cy="887.5" r="6.05"/><circle cx="187.5" cy="892.5" r="6.05"/><circle cx="196.25" cy="893.75" r="6.05"/><circle cx="219.25" cy="897.5" r="6.05"/><circle cx="186.25" cy="903.75" r="6.05"/><circle cx="188.75" cy="908.75" r="6.05"/><circle cx="208.75" cy="908" r="6.05"/><circle cx="216.75" cy="918.75" r="6.05"/><circle cx="237" cy="922" r="6.05"/><circle cx="250" cy="915" r="6.05"/><circle cx="253.75" cy="911.25" r="6.05"/><circle cx="265" cy="777.5" r="6.05"/><circle cx="261.25" cy="782.5" r="6.05"/><circle cx="260" cy="790" r="6.05"/><circle cx="260" cy="807.5" r="6.05"/><circle cx="283.75" cy="832.5" r="6.05"/><circle cx="262.5" cy="838.75" r="6.05"/><circle cx="265" cy="868.75" r="6.05"/><circle cx="275" cy="880" r="6.05"/><circle cx="262.5" cy="881.25" r="6.05"/><circle cx="266.25" cy="895" r="6.05"/><circle cx="270" cy="906.25" r="6.05"/><circle cx="280" cy="907" r="6.05"/><circle cx="269.5" cy="915" r="6.05"/>
</g>
<g fill="#D95F02" fill-opacity="0.3" stroke="#000" stroke-opacity="0.35" stroke-width="1.1">
<circle cx="378.25" cy="663.25" r="6.05"/><circle cx="432" cy="666.25" r="6.05"/><circle cx="433" cy="668.75" r="6.05"/><circle cx="426.25" cy="676.75" r="6.05"/><circle cx="460.75" cy="673" r="6.05"/><circle cx="458.75" cy="684.5" r="6.05"/><circle cx="396.25" cy="692" r="6.05"/><circle cx="427.5" cy="695.5" r="6.05"/><circle cx="379.5" cy="703.75" r="6.05"/><circle cx="390" cy="702.5" r="6.05"/><circle cx="391.25" cy="705" r="6.05"/><circle cx="440.5" cy="702.5" r="6.05"/><circle cx="442.5" cy="705" r="6.05"/><circle cx="400" cy="711.25" r="6.05"/><circle cx="427.5" cy="707.5" r="6.05"/><circle cx="427.5" cy="711.25" r="6.05"/><circle cx="428.75" cy="716.25" r="6.05"/><circle cx="404.25" cy="717.5" r="6.05"/><circle cx="449.5" cy="717.5" r="6.05"/><circle cx="443.75" cy="721.25" r="6.05"/><circle cx="431.25" cy="728.75" r="6.05"/><circle cx="460" cy="731.25" r="6.05"/><circle cx="460.5" cy="731.75" r="6.05"/><circle cx="442" cy="735.75" r="6.05"/><circle cx="401.25" cy="736.25" r="6.05"/><circle cx="406.25" cy="738" r="6.05"/><circle cx="432" cy="742" r="6.05"/><circle cx="368.75" cy="746.25" r="6.05"/><circle cx="370" cy="748.75" r="6.05"/><circle cx="363.75" cy="751.25" r="6.05"/><circle cx="428.75" cy="750" r="6.05"/><circle cx="400" cy="759.5" r="6.05"/><circle cx="358.75" cy="763.75" r="6.05"/><circle cx="370" cy="761.25" r="6.05"/><circle cx="427.5" cy="767.5" r="6.05"/><circle cx="455" cy="761.25" r="6.05"/><circle cx="410" cy="771.25" r="6.05"/><circle cx="432.5" cy="771.25" r="6.05"/><circle cx="455" cy="775" r="6.05"/><circle cx="425" cy="781.25" r="6.05"/><circle cx="404.25" cy="787.5" r="6.05"/><circle cx="375" cy="792.5" r="6.05"/><circle cx="383.75" cy="792" r="6.05"/><circle cx="401.25" cy="795" r="6.05"/><circle cx="398.75" cy="800" r="6.05"/><circle cx="412.5" cy="800" r="6.05"/><circle cx="411.25" cy="805" r="6.05"/><circle cx="400" cy="803.75" r="6.05"/><circle cx="400.5" cy="804.25" r="6.05"/><circle cx="392.5" cy="808.75" r="6.05"/><circle cx="397.5" cy="811.25" r="6.05"/><circle cx="417.5" cy="811.25" r="6.05"/><circle cx="444.25" cy="809.5" r="6.05"/><circle cx="380" cy="812.5" r="6.05"/><circle cx="407.5" cy="817.5" r="6.05"/><circle cx="421.25" cy="820" r="6.05"/><circle cx="377.5" cy="821.25" r="6.05"/><circle cx="378" cy="821.75" r="6.05"/><circle cx="391.25" cy="823" r="6.05"/><circle cx="407.5" cy="825" r="6.05"/><circle cx="447.5" cy="823" r="6.05"/><circle cx="382.5" cy="839.25" r="6.05"/><circle cx="397.5" cy="842.5" r="6.05"/><circle cx="397.5" cy="846.25" r="6.05"/><circle cx="413.75" cy="842.5" r="6.05"/><circle cx="416.25" cy="848.75" r="6.05"/><circle cx="435.5" cy="847.5" r="6.05"/><circle cx="361.75" cy="858" r="6.05"/><circle cx="375.5" cy="860" r="6.05"/><circle cx="408" cy="858" r="6.05"/><circle cx="460.75" cy="858.25" r="6.05"/><circle cx="436.25" cy="861.25" r="6.05"/><circle cx="442" cy="867.5" r="6.05"/><circle cx="365" cy="867" r="6.05"/><circle cx="415" cy="873.75" r="6.05"/><circle cx="461.25" cy="881.75" r="6.05"/><circle cx="393.75" cy="883" r="6.05"/><circle cx="406.25" cy="883.75" r="6.05"/><circle cx="415" cy="887.5" r="6.05"/><circle cx="422.5" cy="883" r="6.05"/><circle cx="378" cy="894.25" r="6.05"/><circle cx="376.75" cy="905" r="6.05"/>
</g>
<line x1="231" y1="651.4" x2="410.25" y2="651.4" stroke="#000" stroke-width="2.5"/>
<text transform="translate(320.62 647.7) scale(0.915 1)" font-size="28.2" fill="#000" text-anchor="middle">2.1e-06</text>
<rect x="127.5" y="546.25" width="387" height="50.25" fill="#D9D9D9"/>
<line x1="127.5" y1="545.25" x2="127.5" y2="977.42" stroke="#6e6e6e" stroke-width="2"/>
<line x1="126.5" y1="546.75" x2="515.5" y2="546.75" stroke="#555" stroke-width="2"/>
<line x1="514.5" y1="545.25" x2="514.5" y2="977.42" stroke="#333" stroke-width="2.35"/>
<line x1="126.5" y1="596.5" x2="515.5" y2="596.5" stroke="#333" stroke-width="2.35"/>
<line x1="126.5" y1="976.25" x2="515.67" y2="976.25" stroke="#333" stroke-width="2.35"/>
<text transform="translate(321 580.77) scale(0.92 1)" font-size="28.2" fill="#1A1A1A" text-anchor="middle">Unweighted UniFrac</text>
<line x1="118.7" y1="611.25" x2="127.5" y2="611.25" stroke="#333" stroke-width="2.4"/>
<text transform="translate(112 621.05) scale(0.905 1)" font-size="28.2" fill="#4D4D4D" text-anchor="end">0.50</text>
<line x1="118.7" y1="708.25" x2="127.5" y2="708.25" stroke="#333" stroke-width="2.4"/>
<text transform="translate(112 718.05) scale(0.905 1)" font-size="28.2" fill="#4D4D4D" text-anchor="end">0.25</text>
<line x1="118.7" y1="805" x2="127.5" y2="805" stroke="#333" stroke-width="2.4"/>
<text transform="translate(112 814.8) scale(0.905 1)" font-size="28.2" fill="#4D4D4D" text-anchor="end">0.00</text>
<line x1="118.7" y1="902" x2="127.5" y2="902" stroke="#333" stroke-width="2.4"/>
<text transform="translate(112 911.8) scale(0.905 1)" font-size="28.2" fill="#4D4D4D" text-anchor="end">-0.25</text>
<line x1="232.5" y1="976.25" x2="232.5" y2="985.05" stroke="#333" stroke-width="2.4"/>
<text transform="translate(232.5 1010) scale(0.93 1)" font-size="28.2" fill="#4D4D4D" text-anchor="middle">HIV (-)</text>
<line x1="408.75" y1="976.25" x2="408.75" y2="985.05" stroke="#333" stroke-width="2.4"/>
<text transform="translate(408.75 1010) scale(0.93 1)" font-size="28.2" fill="#4D4D4D" text-anchor="middle">HIV (+)</text>
<text transform="translate(29 790.6) rotate(-90) scale(0.93 1)" font-size="35" fill="#000" text-anchor="middle" letter-spacing="-2.6">PC1</text>
<rect x="598.75" y="596.5" width="387" height="379.75" fill="#fff"/>
<line x1="598.75" y1="631.5" x2="985.75" y2="631.5" stroke="#E9E9E9" stroke-width="1.1"/>
<line x1="598.75" y1="724.5" x2="985.75" y2="724.5" stroke="#E9E9E9" stroke-width="1.1"/>
<line x1="598.75" y1="818" x2="985.75" y2="818" stroke="#E9E9E9" stroke-width="1.1"/>
<line x1="598.75" y1="911" x2="985.75" y2="911" stroke="#E9E9E9" stroke-width="1.1"/>
<line x1="598.75" y1="678" x2="985.75" y2="678" stroke="#E9E9E9" stroke-width="2.2"/>
<line x1="598.75" y1="771.25" x2="985.75" y2="771.25" stroke="#E9E9E9" stroke-width="2.2"/>
<line x1="598.75" y1="864.5" x2="985.75" y2="864.5" stroke="#E9E9E9" stroke-width="2.2"/>
<line x1="598.75" y1="957.5" x2="985.75" y2="957.5" stroke="#E9E9E9" stroke-width="2.2"/>
<line x1="703.25" y1="596.5" x2="703.25" y2="976.25" stroke="#E9E9E9" stroke-width="2.2"/>
<line x1="880" y1="596.5" x2="880" y2="976.25" stroke="#E9E9E9" stroke-width="2.2"/>
<g fill="#000" fill-opacity="0.25" stroke="#000" stroke-opacity="0.4" stroke-width="1.1">
<circle cx="880" cy="860" r="4.0"/><circle cx="880" cy="872.5" r="4.0"/><circle cx="880" cy="914.5" r="4.0"/>
</g>
<line x1="703.25" y1="690.5" x2="703.25" y2="745" stroke="#333" stroke-width="2.0"/>
<line x1="703.25" y1="861.75" x2="703.25" y2="921.25" stroke="#333" stroke-width="2.0"/>
<rect x="637.5" y="745" width="132.5" height="116.75" fill="#1B9E77" stroke="#333" stroke-width="2.0" fill-opacity="0.3"/>
<line x1="637.5" y1="782" x2="770" y2="782" stroke="#333" stroke-width="3.8"/>
<line x1="880" y1="664.5" x2="880" y2="710" stroke="#333" stroke-width="2.0"/>
<line x1="880" y1="768.75" x2="880" y2="860" stroke="#333" stroke-width="2.0"/>
<rect x="813.75" y="710" width="132" height="58.75" fill="#D95F02" stroke="#333" stroke-width="2.0" fill-opacity="0.3"/>
<line x1="813.75" y1="734.5" x2="945.75" y2="734.5" stroke="#333" stroke-width="3.8"/>
<g fill="#1B9E77" fill-opacity="0.3" stroke="#000" stroke-opacity="0.35" stroke-width="1.1">
<circle cx="712" cy="690" r="6.05"/><circle cx="665.5" cy="697.5" r="6.05"/><circle cx="651.75" cy="703.25" r="6.05"/><circle cx="675" cy="703.25" r="6.05"/><circle cx="682.5" cy="703.75" r="6.05"/><circle cx="742" cy="698.25" r="6.05"/><circle cx="662.5" cy="711.25" r="6.05"/><circle cx="728.75" cy="711.25" r="6.05"/><circle cx="746.25" cy="713.75" r="6.05"/><circle cx="745" cy="717.5" r="6.05"/><circle cx="670" cy="719.5" r="6.05"/><circle cx="678.75" cy="721.25" r="6.05"/><circle cx="731.25" cy="727.5" r="6.05"/><circle cx="732.5" cy="732.5" r="6.05"/><circle cx="733.75" cy="735" r="6.05"/><circle cx="697.5" cy="733.75" r="6.05"/><circle cx="713.75" cy="738.75" r="6.05"/><circle cx="715" cy="742.5" r="6.05"/><circle cx="656.75" cy="742" r="6.05"/><circle cx="723.75" cy="743.75" r="6.05"/><circle cx="737.5" cy="740" r="6.05"/><circle cx="751.25" cy="748.75" r="6.05"/><circle cx="728.75" cy="751.25" r="6.05"/><circle cx="727.5" cy="756.25" r="6.05"/><circle cx="660" cy="753.75" r="6.05"/><circle cx="650" cy="758.75" r="6.05"/><circle cx="671.25" cy="758.75" r="6.05"/><circle cx="710" cy="760" r="6.05"/><circle cx="746.25" cy="758.75" r="6.05"/><circle cx="661.25" cy="762.5" r="6.05"/><circle cx="681.25" cy="768.75" r="6.05"/><circle cx="655" cy="773.75" r="6.05"/><circle cx="686.25" cy="776.25" r="6.05"/><circle cx="707.5" cy="778.75" r="6.05"/><circle cx="717.5" cy="770" r="6.05"/><circle cx="723.75" cy="768.75" r="6.05"/><circle cx="727.5" cy="775" r="6.05"/><circle cx="752.5" cy="767.5" r="6.05"/><circle cx="745" cy="778.75" r="6.05"/><circle cx="651.25" cy="783.75" r="6.05"/><circle cx="671.25" cy="789.25" r="6.05"/><circle cx="742.5" cy="787.5" r="6.05"/><circle cx="663.75" cy="797.5" r="6.05"/><circle cx="670" cy="804.5" r="6.05"/><circle cx="708.75" cy="793.75" r="6.05"/><circle cx="712.5" cy="798.75" r="6.05"/><circle cx="703" cy="804.25" r="6.05"/><circle cx="657.5" cy="819.5" r="6.05"/><circle cx="663.75" cy="825" r="6.05"/><circle cx="676.25" cy="822.5" r="6.05"/><circle cx="736.25" cy="822.5" r="6.05"/><circle cx="663.75" cy="845" r="6.05"/><circle cx="714.5" cy="839.5" r="6.05"/><circle cx="708.75" cy="846.25" r="6.05"/><circle cx="697" cy="850.75" r="6.05"/><circle cx="717" cy="853.75" r="6.05"/><circle cx="675" cy="860" r="6.05"/><circle cx="682.5" cy="859.5" r="6.05"/><circle cx="680" cy="861.25" r="6.05"/><circle cx="717.5" cy="862.5" r="6.05"/><circle cx="728.75" cy="865.75" r="6.05"/><circle cx="657.5" cy="867.5" r="6.05"/><circle cx="705" cy="866.25" r="6.05"/><circle cx="702.5" cy="871.25" r="6.05"/><circle cx="751.25" cy="869.5" r="6.05"/><circle cx="663" cy="877.5" r="6.05"/><circle cx="651.25" cy="883.25" r="6.05"/><circle cx="675.5" cy="885.75" r="6.05"/><circle cx="696.25" cy="882.5" r="6.05"/><circle cx="713.75" cy="881.25" r="6.05"/><circle cx="716.25" cy="880.5" r="6.05"/><circle cx="703.75" cy="891.25" r="6.05"/><circle cx="693.75" cy="893.75" r="6.05"/><circle cx="697" cy="900" r="6.05"/><circle cx="660" cy="901.25" r="6.05"/><circle cx="743.75" cy="898.75" r="6.05"/><circle cx="674.25" cy="921.75" r="6.05"/><circle cx="729.25" cy="920.5" r="6.05"/>
</g>
<g fill="#D95F02" fill-opacity="0.3" stroke="#000" stroke-opacity="0.35" stroke-width="1.1">
<circle cx="897.5" cy="663.25" r="6.05"/><circle cx="885.75" cy="669.25" r="6.05"/><circle cx="901.25" cy="682" r="6.05"/><circle cx="918.75" cy="685.5" r="6.05"/><circle cx="875" cy="686.75" r="6.05"/><circle cx="854.5" cy="686.75" r="6.05"/><circle cx="859.5" cy="693.25" r="6.05"/><circle cx="831.25" cy="691.25" r="6.05"/><circle cx="836.25" cy="696.25" r="6.05"/><circle cx="848" cy="696.25" r="6.05"/><circle cx="900" cy="697.5" r="6.05"/><circle cx="884.5" cy="695" r="6.05"/><circle cx="882.5" cy="701.25" r="6.05"/><circle cx="917.5" cy="700" r="6.05"/><circle cx="923.75" cy="702.5" r="6.05"/><circle cx="869.5" cy="704.25" r="6.05"/><circle cx="931.25" cy="706.25" r="6.05"/><circle cx="830.75" cy="707.5" r="6.05"/><circle cx="850" cy="710" r="6.05"/><circle cx="850.5" cy="710.5" r="6.05"/><circle cx="880" cy="710" r="6.05"/><circle cx="907.5" cy="710" r="6.05"/><circle cx="908" cy="710.5" r="6.05"/><circle cx="841.25" cy="715" r="6.05"/><circle cx="915" cy="715.5" r="6.05"/><circle cx="927.5" cy="716.25" r="6.05"/><circle cx="928.75" cy="718.75" r="6.05"/><circle cx="832.5" cy="720" r="6.05"/><circle cx="847.5" cy="722.5" r="6.05"/><circle cx="851.25" cy="730" r="6.05"/><circle cx="848.75" cy="725" r="6.05"/><circle cx="911.25" cy="721.25" r="6.05"/><circle cx="911.75" cy="721.75" r="6.05"/><circle cx="835.5" cy="728.25" r="6.05"/><circle cx="876.25" cy="733.75" r="6.05"/><circle cx="885" cy="732.5" r="6.05"/><circle cx="908.25" cy="733.75" r="6.05"/><circle cx="829.25" cy="738.75" r="6.05"/><circle cx="930" cy="740" r="6.05"/><circle cx="918.75" cy="742.5" r="6.05"/><circle cx="923.75" cy="747.5" r="6.05"/><circle cx="865" cy="745" r="6.05"/><circle cx="866.25" cy="748.75" r="6.05"/><circle cx="890" cy="744.5" r="6.05"/><circle cx="901.25" cy="747" r="6.05"/><circle cx="828.25" cy="749.5" r="6.05"/><circle cx="891.25" cy="752.5" r="6.05"/><circle cx="873.75" cy="757.5" r="6.05"/><circle cx="881.25" cy="757.5" r="6.05"/><circle cx="903.75" cy="760" r="6.05"/><circle cx="897.5" cy="761.25" r="6.05"/><circle cx="833.75" cy="762.5" r="6.05"/><circle cx="862" cy="768.75" r="6.05"/><circle cx="922.5" cy="762.5" r="6.05"/><circle cx="930" cy="762.5" r="6.05"/><circle cx="917.5" cy="768.75" r="6.05"/><circle cx="932.5" cy="770" r="6.05"/><circle cx="876.75" cy="776.25" r="6.05"/><circle cx="908.75" cy="782.5" r="6.05"/><circle cx="922" cy="783" r="6.05"/><circle cx="927" cy="786.25" r="6.05"/><circle cx="891.25" cy="788.75" r="6.05"/><circle cx="863.75" cy="791.25" r="6.05"/><circle cx="909.5" cy="792.5" r="6.05"/><circle cx="888.25" cy="798" r="6.05"/><circle cx="836.75" cy="800.75" r="6.05"/><circle cx="853.75" cy="802" r="6.05"/><circle cx="861.25" cy="802" r="6.05"/><circle cx="872" cy="801.25" r="6.05"/><circle cx="868" cy="813.25" r="6.05"/><circle cx="876.25" cy="817.5" r="6.05"/><circle cx="893.25" cy="827.5" r="6.05"/><circle cx="912" cy="856.25" r="6.05"/><circle cx="922.5" cy="858.25" r="6.05"/><circle cx="867.5" cy="862" r="6.05"/><circle cx="882.5" cy="860" r="6.05"/><circle cx="853.75" cy="872.5" r="6.05"/><circle cx="840.75" cy="914.5" r="6.05"/>
</g>
<line x1="701.75" y1="651.4" x2="881.5" y2="651.4" stroke="#000" stroke-width="2.5"/>
<text transform="translate(791.62 647.7) scale(0.915 1)" font-size="28.2" fill="#000" text-anchor="middle">1.6e-07</text>
<rect x="598.75" y="546.25" width="387" height="50.25" fill="#D9D9D9"/>
<line x1="598.75" y1="545.25" x2="598.75" y2="977.42" stroke="#6e6e6e" stroke-width="2"/>
<line x1="597.75" y1="546.75" x2="986.75" y2="546.75" stroke="#555" stroke-width="2"/>
<line x1="985.75" y1="545.25" x2="985.75" y2="977.42" stroke="#333" stroke-width="2.35"/>
<line x1="597.75" y1="596.5" x2="986.75" y2="596.5" stroke="#333" stroke-width="2.35"/>
<line x1="597.75" y1="976.25" x2="986.92" y2="976.25" stroke="#333" stroke-width="2.35"/>
<text transform="translate(792.25 580.77) scale(0.92 1)" font-size="28.2" fill="#1A1A1A" text-anchor="middle">Weighted UniFrac</text>
<line x1="589.95" y1="678" x2="598.75" y2="678" stroke="#333" stroke-width="2.4"/>
<text transform="translate(583.25 687.8) scale(0.905 1)" font-size="28.2" fill="#4D4D4D" text-anchor="end">0.3</text>
<line x1="589.95" y1="771.25" x2="598.75" y2="771.25" stroke="#333" stroke-width="2.4"/>
<text transform="translate(583.25 781.05) scale(0.905 1)" font-size="28.2" fill="#4D4D4D" text-anchor="end">0.0</text>
<line x1="589.95" y1="864.5" x2="598.75" y2="864.5" stroke="#333" stroke-width="2.4"/>
<text transform="translate(583.25 874.3) scale(0.905 1)" font-size="28.2" fill="#4D4D4D" text-anchor="end">-0.3</text>
<line x1="589.95" y1="957.5" x2="598.75" y2="957.5" stroke="#333" stroke-width="2.4"/>
<text transform="translate(583.25 967.3) scale(0.905 1)" font-size="28.2" fill="#4D4D4D" text-anchor="end">-0.6</text>
<line x1="703.25" y1="976.25" x2="703.25" y2="985.05" stroke="#333" stroke-width="2.4"/>
<text transform="translate(703.25 1010) scale(0.93 1)" font-size="28.2" fill="#4D4D4D" text-anchor="middle">HIV (-)</text>
<line x1="880" y1="976.25" x2="880" y2="985.05" stroke="#333" stroke-width="2.4"/>
<text transform="translate(880 1010) scale(0.93 1)" font-size="28.2" fill="#4D4D4D" text-anchor="middle">HIV (+)</text>
<rect x="1127.5" y="596.5" width="388" height="379.75" fill="#fff"/>
<line x1="1127.5" y1="626.25" x2="1515.5" y2="626.25" stroke="#E9E9E9" stroke-width="1.1"/>
<line x1="1127.5" y1="741.25" x2="1515.5" y2="741.25" stroke="#E9E9E9" stroke-width="1.1"/>
<line x1="1127.5" y1="856.25" x2="1515.5" y2="856.25" stroke="#E9E9E9" stroke-width="1.1"/>
<line x1="1127.5" y1="971.25" x2="1515.5" y2="971.25" stroke="#E9E9E9" stroke-width="1.1"/>
<line x1="1127.5" y1="683.75" x2="1515.5" y2="683.75" stroke="#E9E9E9" stroke-width="2.2"/>
<line x1="1127.5" y1="798.75" x2="1515.5" y2="798.75" stroke="#E9E9E9" stroke-width="2.2"/>
<line x1="1127.5" y1="913.75" x2="1515.5" y2="913.75" stroke="#E9E9E9" stroke-width="2.2"/>
<line x1="1233" y1="596.5" x2="1233" y2="976.25" stroke="#E9E9E9" stroke-width="2.2"/>
<line x1="1409.5" y1="596.5" x2="1409.5" y2="976.25" stroke="#E9E9E9" stroke-width="2.2"/>
<g fill="#000" fill-opacity="0.25" stroke="#000" stroke-opacity="0.4" stroke-width="1.1">
<circle cx="1409.5" cy="663.75" r="4.0"/>
</g>
<line x1="1233" y1="671.25" x2="1233" y2="739.5" stroke="#333" stroke-width="2.0"/>
<line x1="1233" y1="844.5" x2="1233" y2="908.75" stroke="#333" stroke-width="2.0"/>
<rect x="1167" y="739.5" width="132.25" height="105" fill="#1B9E77" stroke="#333" stroke-width="2.0" fill-opacity="0.3"/>
<line x1="1167" y1="774.25" x2="1299.25" y2="774.25" stroke="#333" stroke-width="3.8"/>
<line x1="1409.5" y1="695" x2="1409.5" y2="778.75" stroke="#333" stroke-width="2.0"/>
<line x1="1409.5" y1="839.5" x2="1409.5" y2="921.25" stroke="#333" stroke-width="2.0"/>
<rect x="1343" y="778.75" width="132.75" height="60.75" fill="#D95F02" stroke="#333" stroke-width="2.0" fill-opacity="0.3"/>
<line x1="1343" y1="811.75" x2="1475.75" y2="811.75" stroke="#333" stroke-width="3.8"/>
<g fill="#1B9E77" fill-opacity="0.3" stroke="#000" stroke-opacity="0.35" stroke-width="1.1">
<circle cx="1226.25" cy="670" r="6.05"/><circle cx="1217.5" cy="678" r="6.05"/><circle cx="1206.25" cy="692" r="6.05"/><circle cx="1207.5" cy="695.5" r="6.05"/><circle cx="1189.5" cy="706.75" r="6.05"/><circle cx="1233.75" cy="705" r="6.05"/><circle cx="1249.5" cy="703.75" r="6.05"/><circle cx="1270" cy="704.5" r="6.05"/><circle cx="1224.25" cy="713.25" r="6.05"/><circle cx="1243" cy="718" r="6.05"/><circle cx="1260" cy="718" r="6.05"/><circle cx="1272.5" cy="723.75" r="6.05"/><circle cx="1228.75" cy="730" r="6.05"/><circle cx="1185" cy="735" r="6.05"/><circle cx="1198.75" cy="732" r="6.05"/><circle cx="1205" cy="740" r="6.05"/><circle cx="1193.75" cy="740" r="6.05"/><circle cx="1193.75" cy="745" r="6.05"/><circle cx="1236.25" cy="740.5" r="6.05"/><circle cx="1270" cy="740" r="6.05"/><circle cx="1181.25" cy="750" r="6.05"/><circle cx="1185" cy="752.5" r="6.05"/><circle cx="1190" cy="753.75" r="6.05"/><circle cx="1190.5" cy="754.25" r="6.05"/><circle cx="1202.5" cy="755" r="6.05"/><circle cx="1225" cy="756.25" r="6.05"/><circle cx="1255" cy="753.75" r="6.05"/><circle cx="1266.25" cy="756.25" r="6.05"/><circle cx="1242.5" cy="760" r="6.05"/><circle cx="1273.75" cy="762.5" r="6.05"/><circle cx="1207.5" cy="763.75" r="6.05"/><circle cx="1283.75" cy="735" r="6.05"/><circle cx="1277.5" cy="742.5" r="6.05"/><circle cx="1280" cy="757.5" r="6.05"/><circle cx="1182.5" cy="767.5" r="6.05"/><circle cx="1202.5" cy="770" r="6.05"/><circle cx="1203" cy="770.5" r="6.05"/><circle cx="1242.5" cy="768.75" r="6.05"/><circle cx="1226.25" cy="776.25" r="6.05"/><circle cx="1226.75" cy="776.75" r="6.05"/><circle cx="1215" cy="780" r="6.05"/><circle cx="1263.75" cy="785" r="6.05"/><circle cx="1255" cy="790" r="6.05"/><circle cx="1253.75" cy="796.25" r="6.05"/><circle cx="1220" cy="791.25" r="6.05"/><circle cx="1223.75" cy="796.25" r="6.05"/><circle cx="1222.5" cy="794.5" r="6.05"/><circle cx="1210.5" cy="800" r="6.05"/><circle cx="1221.25" cy="802" r="6.05"/><circle cx="1233.75" cy="810" r="6.05"/><circle cx="1220.5" cy="812" r="6.05"/><circle cx="1240.75" cy="820" r="6.05"/><circle cx="1248" cy="831.25" r="6.05"/><circle cx="1280" cy="807.5" r="6.05"/><circle cx="1198.75" cy="845" r="6.05"/><circle cx="1217.5" cy="840" r="6.05"/><circle cx="1224.25" cy="843.75" r="6.05"/><circle cx="1270" cy="845" r="6.05"/><circle cx="1265" cy="850.5" r="6.05"/><circle cx="1191.25" cy="859.5" r="6.05"/><circle cx="1218.25" cy="857.5" r="6.05"/><circle cx="1231.75" cy="858.75" r="6.05"/><circle cx="1242" cy="865" r="6.05"/><circle cx="1247" cy="868.75" r="6.05"/><circle cx="1246.25" cy="875" r="6.05"/><circle cx="1262" cy="870.5" r="6.05"/><circle cx="1271.25" cy="870.5" r="6.05"/><circle cx="1277.5" cy="875" r="6.05"/><circle cx="1203" cy="875.5" r="6.05"/><circle cx="1214.25" cy="876.25" r="6.05"/><circle cx="1233" cy="887.5" r="6.05"/><circle cx="1246.75" cy="888.75" r="6.05"/><circle cx="1195.75" cy="904.5" r="6.05"/><circle cx="1205" cy="908.75" r="6.05"/><circle cx="1281.25" cy="858" r="6.05"/><circle cx="1281.25" cy="877" r="6.05"/>
</g>
<g fill="#D95F02" fill-opacity="0.3" stroke="#000" stroke-opacity="0.35" stroke-width="1.1">
<circle cx="1443.25" cy="663.25" r="6.05"/><circle cx="1375.75" cy="694.25" r="6.05"/><circle cx="1439.25" cy="697.5" r="6.05"/><circle cx="1461.25" cy="709.25" r="6.05"/><circle cx="1461.75" cy="709.75" r="6.05"/><circle cx="1447.5" cy="718.75" r="6.05"/><circle cx="1459.25" cy="728.25" r="6.05"/><circle cx="1395.5" cy="733.25" r="6.05"/><circle cx="1359.5" cy="738.25" r="6.05"/><circle cx="1407.5" cy="740" r="6.05"/><circle cx="1391.75" cy="747.5" r="6.05"/><circle cx="1403.75" cy="753.75" r="6.05"/><circle cx="1405" cy="756.25" r="6.05"/><circle cx="1448.75" cy="753" r="6.05"/><circle cx="1362.5" cy="758.75" r="6.05"/><circle cx="1440" cy="760" r="6.05"/><circle cx="1410" cy="760" r="6.05"/><circle cx="1387.5" cy="767.5" r="6.05"/><circle cx="1458.75" cy="763.75" r="6.05"/><circle cx="1443.75" cy="772.5" r="6.05"/><circle cx="1442.5" cy="778.75" r="6.05"/><circle cx="1377.5" cy="776.25" r="6.05"/><circle cx="1393.75" cy="778.75" r="6.05"/><circle cx="1362.5" cy="783.75" r="6.05"/><circle cx="1432.5" cy="781.25" r="6.05"/><circle cx="1421.25" cy="786.25" r="6.05"/><circle cx="1433.75" cy="791.25" r="6.05"/><circle cx="1434.25" cy="791.75" r="6.05"/><circle cx="1447.5" cy="791.25" r="6.05"/><circle cx="1452.5" cy="792.5" r="6.05"/><circle cx="1392.5" cy="792.5" r="6.05"/><circle cx="1403.75" cy="795.5" r="6.05"/><circle cx="1413.75" cy="793.75" r="6.05"/><circle cx="1356.25" cy="795" r="6.05"/><circle cx="1381.25" cy="802" r="6.05"/><circle cx="1386.25" cy="802" r="6.05"/><circle cx="1432.5" cy="802" r="6.05"/><circle cx="1447.5" cy="797.5" r="6.05"/><circle cx="1363.75" cy="805" r="6.05"/><circle cx="1365" cy="811.25" r="6.05"/><circle cx="1364.25" cy="808" r="6.05"/><circle cx="1440" cy="810" r="6.05"/><circle cx="1432.5" cy="815" r="6.05"/><circle cx="1447.5" cy="813.75" r="6.05"/><circle cx="1388.75" cy="817.5" r="6.05"/><circle cx="1460" cy="820.5" r="6.05"/><circle cx="1386.25" cy="823.75" r="6.05"/><circle cx="1387.5" cy="825" r="6.05"/><circle cx="1406.25" cy="823.75" r="6.05"/><circle cx="1413.75" cy="825.75" r="6.05"/><circle cx="1422.5" cy="825.75" r="6.05"/><circle cx="1366.25" cy="835" r="6.05"/><circle cx="1366.75" cy="835.5" r="6.05"/><circle cx="1378.75" cy="836.25" r="6.05"/><circle cx="1390" cy="835" r="6.05"/><circle cx="1406.25" cy="836.25" r="6.05"/><circle cx="1416.25" cy="836.25" r="6.05"/><circle cx="1408.75" cy="839.25" r="6.05"/><circle cx="1451.25" cy="836.25" r="6.05"/><circle cx="1451.75" cy="836.75" r="6.05"/><circle cx="1373.25" cy="848" r="6.05"/><circle cx="1424.25" cy="848.75" r="6.05"/><circle cx="1441.25" cy="846.25" r="6.05"/><circle cx="1411.25" cy="853.75" r="6.05"/><circle cx="1411.75" cy="854.25" r="6.05"/><circle cx="1443.25" cy="855.75" r="6.05"/><circle cx="1390" cy="863.75" r="6.05"/><circle cx="1386.25" cy="868.75" r="6.05"/><circle cx="1369.5" cy="870" r="6.05"/><circle cx="1412" cy="870.5" r="6.05"/><circle cx="1436.25" cy="868.25" r="6.05"/><circle cx="1445" cy="877" r="6.05"/><circle cx="1383.25" cy="888.25" r="6.05"/><circle cx="1405.75" cy="890" r="6.05"/><circle cx="1358.75" cy="896.25" r="6.05"/><circle cx="1426.25" cy="902" r="6.05"/><circle cx="1358.75" cy="908.75" r="6.05"/><circle cx="1402" cy="909.25" r="6.05"/><circle cx="1387.5" cy="920" r="6.05"/><circle cx="1397.5" cy="921.25" r="6.05"/><circle cx="1422.5" cy="922" r="6.05"/>
</g>
<line x1="1231.5" y1="651.4" x2="1411" y2="651.4" stroke="#000" stroke-width="2.5"/>
<text transform="translate(1321.25 647.7) scale(0.915 1)" font-size="28.2" fill="#000" text-anchor="middle">0.0057</text>
<rect x="1127.5" y="544.5" width="388" height="52" fill="#D9D9D9"/>
<line x1="1127.5" y1="543.5" x2="1127.5" y2="977.45" stroke="#262626" stroke-width="2.4"/>
<line x1="1126.5" y1="545" x2="1516.5" y2="545" stroke="#555" stroke-width="2"/>
<line x1="1515.5" y1="543.5" x2="1515.5" y2="977.45" stroke="#262626" stroke-width="2.4"/>
<line x1="1126.5" y1="596.5" x2="1516.5" y2="596.5" stroke="#262626" stroke-width="2.4"/>
<line x1="1126.5" y1="976.25" x2="1516.7" y2="976.25" stroke="#262626" stroke-width="2.4"/>
<text transform="translate(1321.5 579.9) scale(0.92 1)" font-size="28.2" fill="#1A1A1A" text-anchor="middle">Unweighted UniFrac</text>
<line x1="1118.7" y1="683.75" x2="1127.5" y2="683.75" stroke="#333" stroke-width="2.4"/>
<text transform="translate(1112 693.55) scale(0.905 1)" font-size="28.2" fill="#4D4D4D" text-anchor="end">0.2</text>
<line x1="1118.7" y1="798.75" x2="1127.5" y2="798.75" stroke="#333" stroke-width="2.4"/>
<text transform="translate(1112 808.55) scale(0.905 1)" font-size="28.2" fill="#4D4D4D" text-anchor="end">0.0</text>
<line x1="1118.7" y1="913.75" x2="1127.5" y2="913.75" stroke="#333" stroke-width="2.4"/>
<text transform="translate(1112 923.55) scale(0.905 1)" font-size="28.2" fill="#4D4D4D" text-anchor="end">-0.2</text>
<line x1="1233" y1="976.25" x2="1233" y2="985.05" stroke="#333" stroke-width="2.4"/>
<text transform="translate(1233 1010) scale(0.93 1)" font-size="28.2" fill="#4D4D4D" text-anchor="middle">HIV (-)</text>
<line x1="1409.5" y1="976.25" x2="1409.5" y2="985.05" stroke="#333" stroke-width="2.4"/>
<text transform="translate(1409.5 1010) scale(0.93 1)" font-size="28.2" fill="#4D4D4D" text-anchor="middle">HIV (+)</text>
<text transform="translate(1044 786.2) rotate(-90) scale(0.93 1)" font-size="35" fill="#000" text-anchor="middle" letter-spacing="0">PC2</text>
<rect x="1613.75" y="596.5" width="386.5" height="379.75" fill="#fff"/>
<line x1="1613.75" y1="603.7" x2="2000.25" y2="603.7" stroke="#E9E9E9" stroke-width="1.1"/>
<line x1="1613.75" y1="688" x2="2000.25" y2="688" stroke="#E9E9E9" stroke-width="1.1"/>
<line x1="1613.75" y1="772" x2="2000.25" y2="772" stroke="#E9E9E9" stroke-width="1.1"/>
<line x1="1613.75" y1="856.25" x2="2000.25" y2="856.25" stroke="#E9E9E9" stroke-width="1.1"/>
<line x1="1613.75" y1="940.5" x2="2000.25" y2="940.5" stroke="#E9E9E9" stroke-width="1.1"/>
<line x1="1613.75" y1="645.75" x2="2000.25" y2="645.75" stroke="#E9E9E9" stroke-width="2.2"/>
<line x1="1613.75" y1="730" x2="2000.25" y2="730" stroke="#E9E9E9" stroke-width="2.2"/>
<line x1="1613.75" y1="814.25" x2="2000.25" y2="814.25" stroke="#E9E9E9" stroke-width="2.2"/>
<line x1="1613.75" y1="898.25" x2="2000.25" y2="898.25" stroke="#E9E9E9" stroke-width="2.2"/>
<line x1="1718.75" y1="596.5" x2="1718.75" y2="976.25" stroke="#E9E9E9" stroke-width="2.2"/>
<line x1="1894.75" y1="596.5" x2="1894.75" y2="976.25" stroke="#E9E9E9" stroke-width="2.2"/>
<g fill="#000" fill-opacity="0.25" stroke="#000" stroke-opacity="0.4" stroke-width="1.1">
<circle cx="1718.75" cy="770.5" r="4.0"/><circle cx="1718.75" cy="791.25" r="4.0"/><circle cx="1718.75" cy="807" r="4.0"/><circle cx="1718.75" cy="808" r="4.0"/><circle cx="1718.75" cy="835.75" r="4.0"/><circle cx="1716" cy="880" r="4.0"/><circle cx="1894" cy="922" r="4.0"/>
</g>
<line x1="1718.75" y1="668.75" x2="1718.75" y2="695" stroke="#333" stroke-width="2.0"/>
<line x1="1718.75" y1="723.75" x2="1718.75" y2="766" stroke="#333" stroke-width="2.0"/>
<rect x="1652.5" y="695" width="132.25" height="28.75" fill="#1B9E77" stroke="#333" stroke-width="2.0" fill-opacity="0.3"/>
<line x1="1652.5" y1="708.75" x2="1784.75" y2="708.75" stroke="#333" stroke-width="3.8"/>
<line x1="1894.75" y1="664.5" x2="1894.75" y2="700.5" stroke="#333" stroke-width="2.0"/>
<line x1="1894.75" y1="786.25" x2="1894.75" y2="886.25" stroke="#333" stroke-width="2.0"/>
<rect x="1829" y="700.5" width="132" height="85.75" fill="#D95F02" stroke="#333" stroke-width="2.0" fill-opacity="0.3"/>
<line x1="1829" y1="718.75" x2="1961" y2="718.75" stroke="#333" stroke-width="3.8"/>
<g fill="#1B9E77" fill-opacity="0.3" stroke="#000" stroke-opacity="0.35" stroke-width="1.1">
<circle cx="1736.25" cy="668" r="6.05"/><circle cx="1690" cy="673" r="6.05"/><circle cx="1695" cy="672.5" r="6.05"/><circle cx="1708" cy="672.5" r="6.05"/><circle cx="1763.75" cy="672" r="6.05"/><circle cx="1731.25" cy="677" r="6.05"/><circle cx="1750" cy="679.5" r="6.05"/><circle cx="1720" cy="680.5" r="6.05"/><circle cx="1762.5" cy="680" r="6.05"/><circle cx="1755" cy="682.5" r="6.05"/><circle cx="1702.5" cy="687.5" r="6.05"/><circle cx="1710" cy="685" r="6.05"/><circle cx="1740" cy="687.5" r="6.05"/><circle cx="1765" cy="688" r="6.05"/><circle cx="1681.25" cy="695" r="6.05"/><circle cx="1771" cy="695" r="6.05"/><circle cx="1702.5" cy="697.5" r="6.05"/><circle cx="1727.5" cy="696.25" r="6.05"/><circle cx="1747.5" cy="696.25" r="6.05"/><circle cx="1680" cy="701.25" r="6.05"/><circle cx="1687.5" cy="702.5" r="6.05"/><circle cx="1715" cy="702.5" r="6.05"/><circle cx="1715.5" cy="703" r="6.05"/><circle cx="1733.75" cy="702.5" r="6.05"/><circle cx="1752.5" cy="701.25" r="6.05"/><circle cx="1760" cy="702.5" r="6.05"/><circle cx="1677.5" cy="707.5" r="6.05"/><circle cx="1695" cy="708.75" r="6.05"/><circle cx="1705" cy="707.5" r="6.05"/><circle cx="1722.5" cy="707.5" r="6.05"/><circle cx="1742.5" cy="707.5" r="6.05"/><circle cx="1735" cy="710" r="6.05"/><circle cx="1752.5" cy="711.25" r="6.05"/><circle cx="1686.25" cy="713.75" r="6.05"/><circle cx="1686.75" cy="714.25" r="6.05"/><circle cx="1713.75" cy="713.75" r="6.05"/><circle cx="1730" cy="715" r="6.05"/><circle cx="1766.25" cy="715" r="6.05"/><circle cx="1667.5" cy="717" r="6.05"/><circle cx="1693.75" cy="721.25" r="6.05"/><circle cx="1708.75" cy="722.5" r="6.05"/><circle cx="1731.25" cy="721.25" r="6.05"/><circle cx="1748.75" cy="720" r="6.05"/><circle cx="1762.5" cy="722.5" r="6.05"/><circle cx="1666.25" cy="726.25" r="6.05"/><circle cx="1748.75" cy="727.5" r="6.05"/><circle cx="1761.25" cy="726.25" r="6.05"/><circle cx="1677" cy="733" r="6.05"/><circle cx="1691.25" cy="735" r="6.05"/><circle cx="1695" cy="735" r="6.05"/><circle cx="1709.5" cy="736.25" r="6.05"/><circle cx="1771.25" cy="747" r="6.05"/><circle cx="1687.5" cy="753.75" r="6.05"/><circle cx="1705.75" cy="756.25" r="6.05"/><circle cx="1731.25" cy="756.25" r="6.05"/><circle cx="1735" cy="760" r="6.05"/><circle cx="1693.75" cy="770" r="6.05"/><circle cx="1707.5" cy="767" r="6.05"/><circle cx="1687" cy="791.25" r="6.05"/><circle cx="1690" cy="808.25" r="6.05"/><circle cx="1767.5" cy="805.75" r="6.05"/><circle cx="1673.25" cy="835.75" r="6.05"/><circle cx="1723.75" cy="880" r="6.05"/><circle cx="1684.98" cy="700.95" r="6.05"/><circle cx="1686.35" cy="713.3" r="6.05"/><circle cx="1706.24" cy="690.94" r="6.05"/><circle cx="1713.79" cy="702.33" r="6.05"/><circle cx="1733.68" cy="709.87" r="6.05"/><circle cx="1752.19" cy="699.58" r="6.05"/><circle cx="1752.19" cy="711.24" r="6.05"/><circle cx="1763.17" cy="723.59" r="6.05"/><circle cx="1770.71" cy="694.78" r="6.05"/><circle cx="1730.93" cy="696.15" r="6.05"/><circle cx="1695.95" cy="710.56" r="6.05"/><circle cx="1746.02" cy="726.33" r="6.05"/><circle cx="1683" cy="702.5" r="6.05"/><circle cx="1700.5" cy="707.5" r="6.05"/><circle cx="1713" cy="690" r="6.05"/><circle cx="1728" cy="702.5" r="6.05"/><circle cx="1743" cy="712.5" r="6.05"/><circle cx="1753" cy="697.5" r="6.05"/><circle cx="1695.5" cy="685" r="6.05"/><circle cx="1735.5" cy="685" r="6.05"/><circle cx="1758" cy="685" r="6.05"/><circle cx="1678" cy="710" r="6.05"/>
</g>
<g fill="#D95F02" fill-opacity="0.3" stroke="#000" stroke-opacity="0.35" stroke-width="1.1">
<circle cx="1921" cy="663.25" r="6.05"/><circle cx="1843.5" cy="672" r="6.05"/><circle cx="1904.75" cy="677" r="6.05"/><circle cx="1862.25" cy="677.5" r="6.05"/><circle cx="1866" cy="680.75" r="6.05"/><circle cx="1844.75" cy="683.25" r="6.05"/><circle cx="1921" cy="682" r="6.05"/><circle cx="1878.5" cy="685" r="6.05"/><circle cx="1873.5" cy="688.75" r="6.05"/><circle cx="1914.75" cy="686.25" r="6.05"/><circle cx="1936" cy="688.75" r="6.05"/><circle cx="1934.75" cy="692.5" r="6.05"/><circle cx="1901.75" cy="690" r="6.05"/><circle cx="1888" cy="691.25" r="6.05"/><circle cx="1859.75" cy="695" r="6.05"/><circle cx="1847.25" cy="698.75" r="6.05"/><circle cx="1847.75" cy="699.25" r="6.05"/><circle cx="1866" cy="701.25" r="6.05"/><circle cx="1871" cy="703.75" r="6.05"/><circle cx="1868.5" cy="702.5" r="6.05"/><circle cx="1883.5" cy="701.25" r="6.05"/><circle cx="1896" cy="702.5" r="6.05"/><circle cx="1906" cy="702.5" r="6.05"/><circle cx="1916" cy="702.5" r="6.05"/><circle cx="1923.5" cy="701.25" r="6.05"/><circle cx="1933.5" cy="702.5" r="6.05"/><circle cx="1944.75" cy="702.5" r="6.05"/><circle cx="1887.25" cy="708.75" r="6.05"/><circle cx="1897.25" cy="707.5" r="6.05"/><circle cx="1904.75" cy="710" r="6.05"/><circle cx="1918.5" cy="708.75" r="6.05"/><circle cx="1869.75" cy="712.5" r="6.05"/><circle cx="1848.5" cy="718.75" r="6.05"/><circle cx="1906" cy="715" r="6.05"/><circle cx="1898.5" cy="720" r="6.05"/><circle cx="1934.75" cy="718.75" r="6.05"/><circle cx="1882.25" cy="722.5" r="6.05"/><circle cx="1909.75" cy="727.5" r="6.05"/><circle cx="1881" cy="731.25" r="6.05"/><circle cx="1916" cy="731.25" r="6.05"/><circle cx="1923.5" cy="731.25" r="6.05"/><circle cx="1932.25" cy="732" r="6.05"/><circle cx="1871" cy="737" r="6.05"/><circle cx="1904.75" cy="738.75" r="6.05"/><circle cx="1883.5" cy="742" r="6.05"/><circle cx="1919.75" cy="745" r="6.05"/><circle cx="1926" cy="745" r="6.05"/><circle cx="1858.5" cy="748.75" r="6.05"/><circle cx="1842.25" cy="751.25" r="6.05"/><circle cx="1871" cy="754.5" r="6.05"/><circle cx="1942.75" cy="757" r="6.05"/><circle cx="1854.25" cy="771.25" r="6.05"/><circle cx="1854.75" cy="771.75" r="6.05"/><circle cx="1869" cy="774.5" r="6.05"/><circle cx="1939.75" cy="771.25" r="6.05"/><circle cx="1855.25" cy="782.5" r="6.05"/><circle cx="1942.25" cy="791.25" r="6.05"/><circle cx="1942.75" cy="791.75" r="6.05"/><circle cx="1842.75" cy="796.75" r="6.05"/><circle cx="1908" cy="794.5" r="6.05"/><circle cx="1920.5" cy="797" r="6.05"/><circle cx="1861" cy="810" r="6.05"/><circle cx="1939.75" cy="809.5" r="6.05"/><circle cx="1842.75" cy="817" r="6.05"/><circle cx="1928.5" cy="818" r="6.05"/><circle cx="1934.75" cy="817" r="6.05"/><circle cx="1893" cy="828.75" r="6.05"/><circle cx="1861.75" cy="831.25" r="6.05"/><circle cx="1923.5" cy="831.25" r="6.05"/><circle cx="1926.5" cy="833.75" r="6.05"/><circle cx="1881.5" cy="840" r="6.05"/><circle cx="1871.5" cy="844.5" r="6.05"/><circle cx="1938.5" cy="844.5" r="6.05"/><circle cx="1947.75" cy="844.5" r="6.05"/><circle cx="1905.5" cy="873.75" r="6.05"/><circle cx="1859.75" cy="882.5" r="6.05"/><circle cx="1913.5" cy="886.25" r="6.05"/><circle cx="1899.75" cy="922" r="6.05"/><circle cx="1873" cy="702.5" r="6.05"/><circle cx="1888" cy="707.5" r="6.05"/><circle cx="1903" cy="712.5" r="6.05"/><circle cx="1918" cy="702.5" r="6.05"/><circle cx="1928" cy="710" r="6.05"/><circle cx="1863" cy="700" r="6.05"/>
</g>
<line x1="1717.25" y1="651.4" x2="1896.25" y2="651.4" stroke="#000" stroke-width="2.5"/>
<text transform="translate(1806.75 647.7) scale(0.915 1)" font-size="28.2" fill="#000" text-anchor="middle">0.0048</text>
<rect x="1613.75" y="546.25" width="386.5" height="50.25" fill="#D9D9D9"/>
<line x1="1613.75" y1="545.25" x2="1613.75" y2="977.42" stroke="#6e6e6e" stroke-width="2"/>
<line x1="1612.75" y1="546.75" x2="2001.25" y2="546.75" stroke="#555" stroke-width="2"/>
<line x1="2000.25" y1="545.25" x2="2000.25" y2="977.42" stroke="#333" stroke-width="2.35"/>
<line x1="1612.75" y1="596.5" x2="2001.25" y2="596.5" stroke="#333" stroke-width="2.35"/>
<line x1="1612.75" y1="976.25" x2="2001.42" y2="976.25" stroke="#333" stroke-width="2.35"/>
<text transform="translate(1807 580.77) scale(0.92 1)" font-size="28.2" fill="#1A1A1A" text-anchor="middle">Weighted UniFrac</text>
<line x1="1604.95" y1="645.75" x2="1613.75" y2="645.75" stroke="#333" stroke-width="2.4"/>
<text transform="translate(1598.25 655.55) scale(0.905 1)" font-size="28.2" fill="#4D4D4D" text-anchor="end">0.25</text>
<line x1="1604.95" y1="730" x2="1613.75" y2="730" stroke="#333" stroke-width="2.4"/>
<text transform="translate(1598.25 739.8) scale(0.905 1)" font-size="28.2" fill="#4D4D4D" text-anchor="end">0.00</text>
<line x1="1604.95" y1="814.25" x2="1613.75" y2="814.25" stroke="#333" stroke-width="2.4"/>
<text transform="translate(1598.25 824.05) scale(0.905 1)" font-size="28.2" fill="#4D4D4D" text-anchor="end">-0.25</text>
<line x1="1604.95" y1="898.25" x2="1613.75" y2="898.25" stroke="#333" stroke-width="2.4"/>
<text transform="translate(1598.25 908.05) scale(0.905 1)" font-size="28.2" fill="#4D4D4D" text-anchor="end">-0.50</text>
<line x1="1718.75" y1="976.25" x2="1718.75" y2="985.05" stroke="#333" stroke-width="2.4"/>
<text transform="translate(1718.75 1010) scale(0.93 1)" font-size="28.2" fill="#4D4D4D" text-anchor="middle">HIV (-)</text>
<line x1="1894.75" y1="976.25" x2="1894.75" y2="985.05" stroke="#333" stroke-width="2.4"/>
<text transform="translate(1894.75 1010) scale(0.93 1)" font-size="28.2" fill="#4D4D4D" text-anchor="middle">HIV (+)</text>
</svg>
</body>
</html>
